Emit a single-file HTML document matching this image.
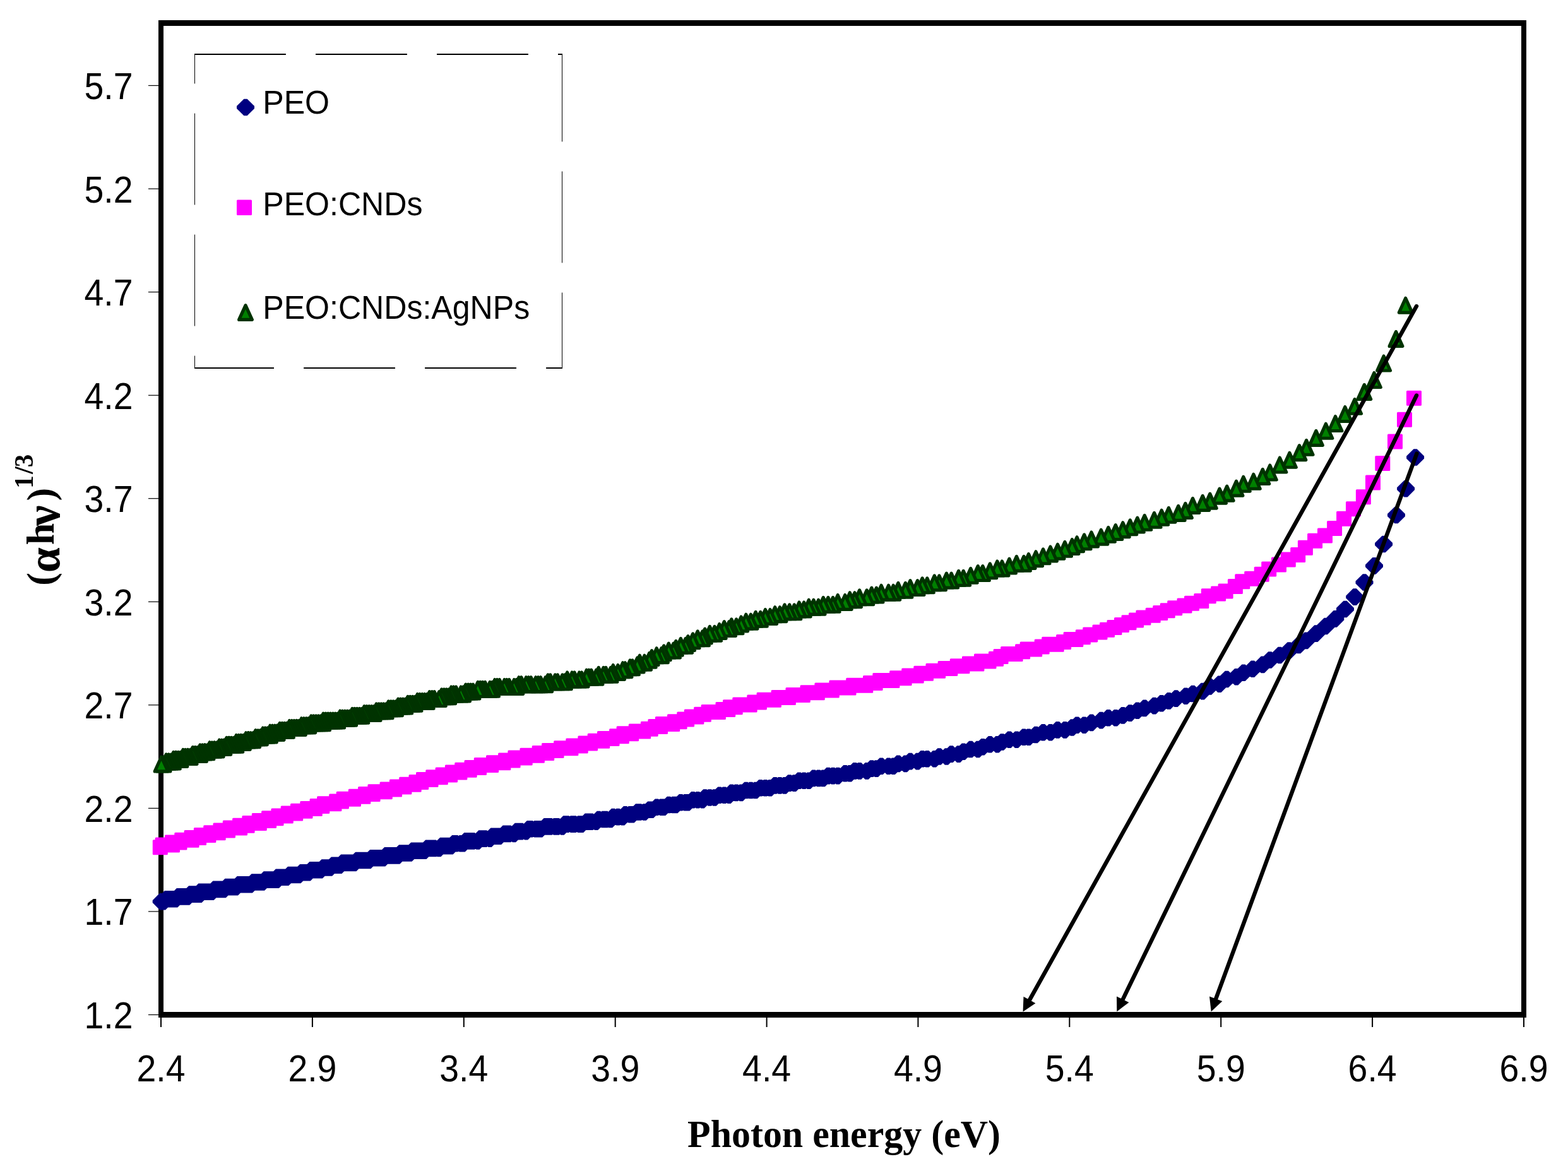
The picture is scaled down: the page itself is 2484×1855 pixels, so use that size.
<!DOCTYPE html><html><head><meta charset="utf-8"><title>Tauc plot</title><style>html,body{margin:0;padding:0;background:#fff;}svg{display:block;}</style></head><body><svg width="2484" height="1855" viewBox="0 0 2484 1855"><rect width="2484" height="1855" fill="#fff"/><g fill="none" stroke="#000"><path d="M308 86H891" stroke-width="2" stroke-dasharray="144.9 47.1"/><path d="M890.5 86V584" stroke-width="1" stroke-dasharray="144.9 47.1" stroke-dashoffset="582.5"/><path d="M891 583H308" stroke-width="2" stroke-dasharray="144.9 47.1" stroke-dashoffset="1079"/><path d="M308.5 584V85" stroke-width="1" stroke-dasharray="144.9 47.1" stroke-dashoffset="1660.5"/></g><rect x="235" y="1606.9" width="16" height="1.2" fill="#000"/><rect x="235" y="1443.3" width="16" height="1.2" fill="#000"/><rect x="235" y="1279.8" width="16" height="1.2" fill="#000"/><rect x="235" y="1116.2" width="16" height="1.2" fill="#000"/><rect x="235" y="952.7" width="16" height="1.2" fill="#000"/><rect x="235" y="789.1" width="16" height="1.2" fill="#000"/><rect x="235" y="625.6" width="16" height="1.2" fill="#000"/><rect x="235" y="462" width="16" height="1.2" fill="#000"/><rect x="235" y="298.5" width="16" height="1.2" fill="#000"/><rect x="235" y="134.9" width="16" height="1.2" fill="#000"/><rect x="254" y="1612" width="2" height="15" fill="#000"/><rect x="493.9" y="1612" width="2" height="15" fill="#000"/><rect x="733.8" y="1612" width="2" height="15" fill="#000"/><rect x="973.7" y="1612" width="2" height="15" fill="#000"/><rect x="1213.6" y="1612" width="2" height="15" fill="#000"/><rect x="1453.4" y="1612" width="2" height="15" fill="#000"/><rect x="1693.3" y="1612" width="2" height="15" fill="#000"/><rect x="1933.2" y="1612" width="2" height="15" fill="#000"/><rect x="2173.1" y="1612" width="2" height="15" fill="#000"/><rect x="2413" y="1612" width="2" height="15" fill="#000"/><path d="M251 32h2167v9H251zM251 1603h2167v9H251zM251 32h8v1580h-8zM2410 32h8v1580h-8z" fill="#000"/><g transform="translate(210.5 1629) scale(0.9466 1)"><text font-family="Liberation Sans, Arial, sans-serif" font-size="58.5" fill="#000" text-anchor="end">1.2</text></g><g transform="translate(210.5 1465.4) scale(0.9466 1)"><text font-family="Liberation Sans, Arial, sans-serif" font-size="58.5" fill="#000" text-anchor="end">1.7</text></g><g transform="translate(210.5 1301.9) scale(0.9466 1)"><text font-family="Liberation Sans, Arial, sans-serif" font-size="58.5" fill="#000" text-anchor="end">2.2</text></g><g transform="translate(210.5 1138.3) scale(0.9466 1)"><text font-family="Liberation Sans, Arial, sans-serif" font-size="58.5" fill="#000" text-anchor="end">2.7</text></g><g transform="translate(210.5 974.8) scale(0.9466 1)"><text font-family="Liberation Sans, Arial, sans-serif" font-size="58.5" fill="#000" text-anchor="end">3.2</text></g><g transform="translate(210.5 811.2) scale(0.9466 1)"><text font-family="Liberation Sans, Arial, sans-serif" font-size="58.5" fill="#000" text-anchor="end">3.7</text></g><g transform="translate(210.5 647.7) scale(0.9466 1)"><text font-family="Liberation Sans, Arial, sans-serif" font-size="58.5" fill="#000" text-anchor="end">4.2</text></g><g transform="translate(210.5 484.1) scale(0.9466 1)"><text font-family="Liberation Sans, Arial, sans-serif" font-size="58.5" fill="#000" text-anchor="end">4.7</text></g><g transform="translate(210.5 320.6) scale(0.9466 1)"><text font-family="Liberation Sans, Arial, sans-serif" font-size="58.5" fill="#000" text-anchor="end">5.2</text></g><g transform="translate(210.5 157) scale(0.9466 1)"><text font-family="Liberation Sans, Arial, sans-serif" font-size="58.5" fill="#000" text-anchor="end">5.7</text></g><g transform="translate(255 1713) scale(0.9466 1)"><text font-family="Liberation Sans, Arial, sans-serif" font-size="58.5" fill="#000" text-anchor="middle">2.4</text></g><g transform="translate(494.9 1713) scale(0.9466 1)"><text font-family="Liberation Sans, Arial, sans-serif" font-size="58.5" fill="#000" text-anchor="middle">2.9</text></g><g transform="translate(734.8 1713) scale(0.9466 1)"><text font-family="Liberation Sans, Arial, sans-serif" font-size="58.5" fill="#000" text-anchor="middle">3.4</text></g><g transform="translate(974.7 1713) scale(0.9466 1)"><text font-family="Liberation Sans, Arial, sans-serif" font-size="58.5" fill="#000" text-anchor="middle">3.9</text></g><g transform="translate(1214.6 1713) scale(0.9466 1)"><text font-family="Liberation Sans, Arial, sans-serif" font-size="58.5" fill="#000" text-anchor="middle">4.4</text></g><g transform="translate(1454.4 1713) scale(0.9466 1)"><text font-family="Liberation Sans, Arial, sans-serif" font-size="58.5" fill="#000" text-anchor="middle">4.9</text></g><g transform="translate(1694.3 1713) scale(0.9466 1)"><text font-family="Liberation Sans, Arial, sans-serif" font-size="58.5" fill="#000" text-anchor="middle">5.4</text></g><g transform="translate(1934.2 1713) scale(0.9466 1)"><text font-family="Liberation Sans, Arial, sans-serif" font-size="58.5" fill="#000" text-anchor="middle">5.9</text></g><g transform="translate(2174.1 1713) scale(0.9466 1)"><text font-family="Liberation Sans, Arial, sans-serif" font-size="58.5" fill="#000" text-anchor="middle">6.4</text></g><g transform="translate(2414 1713) scale(0.9466 1)"><text font-family="Liberation Sans, Arial, sans-serif" font-size="58.5" fill="#000" text-anchor="middle">6.9</text></g><g transform="translate(1337 1817) scale(0.9666 1)"><text x="0" y="0" font-family="Liberation Serif, Times New Roman, serif" font-weight="bold" font-size="62" text-anchor="middle">Photon energy (eV)</text></g><g transform="translate(85 926) rotate(-90)" font-family="Liberation Serif, Times New Roman, serif" font-weight="bold" text-anchor="middle"><text transform="translate(8.5 0) scale(1 1)" font-size="62">(</text><text transform="translate(38.7 8.5) scale(1.16 1.17)" font-size="62">&#945;</text><text transform="translate(80.1 0) scale(1 1)" font-size="62">h</text><text transform="translate(109.2 8.5) scale(1.17 1.26)" font-size="62">&#957;</text><text transform="translate(142.8 0) scale(1 1)" font-size="62">)</text><text transform="translate(162.6 -33) scale(1 1)" font-size="41.4">1</text><text transform="translate(181 -33) scale(1 1)" font-size="41.4">/</text><text transform="translate(196 -33) scale(1 1)" font-size="41.4">3</text></g><path d="M386.4 156.7L391.6 156.7L403 168.1L403 171.9L391.6 183.3L386.4 183.3L375 171.9L375 168.1Z" fill="#000080"/><path d="M376.5 318h21v21.5h-21Z" fill="#FF00FF" stroke="#FF00FF" stroke-width="3" stroke-linejoin="round"/><path d="M389 483.6L399.4 506.4L378.6 506.4Z" fill="#008000" stroke="#003300" stroke-width="5.1" stroke-linejoin="round"/><g transform="translate(416.3 179.9) scale(0.965 1)"><text font-family="Liberation Sans, Arial, sans-serif" font-size="51.9" fill="#000">PEO</text></g><g transform="translate(416.3 341) scale(0.965 1)"><text font-family="Liberation Sans, Arial, sans-serif" font-size="51.9" fill="#000">PEO:CNDs</text></g><g transform="translate(416.3 504.8) scale(0.965 1)"><text font-family="Liberation Sans, Arial, sans-serif" font-size="51.9" fill="#000">PEO:CNDs:AgNPs</text></g><path d="M2239.5 711.2L2244.7 711.2L2256.1 722.6L2256.1 726.4L2244.7 737.8L2239.5 737.8L2228.1 726.4L2228.1 722.6ZM2224.5 760.9L2229.7 760.9L2241.1 772.3L2241.1 776.1L2229.7 787.5L2224.5 787.5L2213.1 776.1L2213.1 772.3ZM2209.4 802.7L2214.6 802.7L2226 814.1L2226 817.9L2214.6 829.3L2209.4 829.3L2198 817.9L2198 814.1ZM2189.5 848.7L2194.7 848.7L2206.1 860.1L2206.1 863.9L2194.7 875.3L2189.5 875.3L2178.1 863.9L2178.1 860.1ZM2174.4 883.1L2179.6 883.1L2191 894.5L2191 898.3L2179.6 909.7L2174.4 909.7L2163 898.3L2163 894.5ZM2158.9 909.2L2164.1 909.2L2175.5 920.6L2175.5 924.4L2164.1 935.8L2158.9 935.8L2147.5 924.4L2147.5 920.6ZM2143.6 932.3L2148.8 932.3L2160.2 943.7L2160.2 947.5L2148.8 958.9L2143.6 958.9L2132.2 947.5L2132.2 943.7ZM2128.4 951.7L2133.6 951.7L2145 963.1L2145 966.9L2133.6 978.3L2128.4 978.3L2117 966.9L2117 963.1ZM2112.7 967.1L2117.9 967.1L2129.3 978.5L2129.3 982.3L2117.9 993.7L2112.7 993.7L2101.3 982.3L2101.3 978.5ZM2097.7 978.7L2102.9 978.7L2114.3 990.1L2114.3 993.9L2102.9 1005.3L2097.7 1005.3L2086.3 993.9L2086.3 990.1ZM2082.3 990.3L2087.5 990.3L2098.9 1001.7L2098.9 1005.5L2087.5 1016.9L2082.3 1016.9L2070.9 1005.5L2070.9 1001.7ZM2066.6 1001.6L2071.8 1001.6L2083.2 1013L2083.2 1016.8L2071.8 1028.2L2066.6 1028.2L2055.2 1016.8L2055.2 1013ZM2055.1 1008.7L2060.3 1008.7L2071.7 1020.1L2071.7 1023.9L2060.3 1035.3L2055.1 1035.3L2043.7 1023.9L2043.7 1020.1ZM2039.6 1017.2L2044.8 1017.2L2056.2 1028.6L2056.2 1032.4L2044.8 1043.8L2039.6 1043.8L2028.2 1032.4L2028.2 1028.6ZM2024.6 1024.7L2029.8 1024.7L2041.2 1036.1L2041.2 1039.9L2029.8 1051.3L2024.6 1051.3L2013.2 1039.9L2013.2 1036.1ZM2009.2 1032.2L2014.4 1032.2L2025.8 1043.6L2025.8 1047.4L2014.4 1058.8L2009.2 1058.8L1997.8 1047.4L1997.8 1043.6ZM1997.8 1039.6L2003 1039.6L2014.4 1051L2014.4 1054.8L2003 1066.2L1997.8 1066.2L1986.4 1054.8L1986.4 1051ZM1981.9 1046.5L1987.1 1046.5L1998.5 1057.9L1998.5 1061.7L1987.1 1073.1L1981.9 1073.1L1970.5 1061.7L1970.5 1057.9ZM1967.4 1052.5L1972.6 1052.5L1984 1063.9L1984 1067.7L1972.6 1079.1L1967.4 1079.1L1956 1067.7L1956 1063.9ZM1956.1 1058.9L1961.3 1058.9L1972.7 1070.3L1972.7 1074.1L1961.3 1085.5L1956.1 1085.5L1944.7 1074.1L1944.7 1070.3ZM1940.8 1062.7L1946 1062.7L1957.4 1074.1L1957.4 1077.9L1946 1089.3L1940.8 1089.3L1929.4 1077.9L1929.4 1074.1ZM1929.3 1070.4L1934.5 1070.4L1945.9 1081.8L1945.9 1085.6L1934.5 1097L1929.3 1097L1917.9 1085.6L1917.9 1081.8ZM1914 1074.2L1919.2 1074.2L1930.6 1085.6L1930.6 1089.4L1919.2 1100.8L1914 1100.8L1902.6 1089.4L1902.6 1085.6ZM1902.6 1081.8L1907.8 1081.8L1919.2 1093.2L1919.2 1097L1907.8 1108.4L1902.6 1108.4L1891.2 1097L1891.2 1093.2ZM1887.2 1085.7L1892.4 1085.7L1903.8 1097.1L1903.8 1100.9L1892.4 1112.3L1887.2 1112.3L1875.8 1100.9L1875.8 1097.1ZM1875.8 1089.5L1881 1089.5L1892.4 1100.9L1892.4 1104.7L1881 1116.1L1875.8 1116.1L1864.4 1104.7L1864.4 1100.9ZM1860.5 1093.3L1865.7 1093.3L1877.1 1104.7L1877.1 1108.5L1865.7 1119.9L1860.5 1119.9L1849.1 1108.5L1849.1 1104.7ZM1849 1097.1L1854.2 1097.1L1865.6 1108.5L1865.6 1112.3L1854.2 1123.7L1849 1123.7L1837.6 1112.3L1837.6 1108.5ZM1837.5 1101L1842.7 1101L1854.1 1112.4L1854.1 1116.2L1842.7 1127.6L1837.5 1127.6L1826.1 1116.2L1826.1 1112.4ZM1826 1104.8L1831.2 1104.8L1842.6 1116.2L1842.6 1120L1831.2 1131.4L1826 1131.4L1814.6 1120L1814.6 1116.2ZM1810.7 1108.6L1815.9 1108.6L1827.3 1120L1827.3 1123.8L1815.9 1135.2L1810.7 1135.2L1799.3 1123.8L1799.3 1120ZM1799.2 1112.5L1804.4 1112.5L1815.8 1123.9L1815.8 1127.7L1804.4 1139.1L1799.2 1139.1L1787.8 1127.7L1787.8 1123.9ZM1787.7 1116.3L1792.9 1116.3L1804.3 1127.7L1804.3 1131.5L1792.9 1142.9L1787.7 1142.9L1776.3 1131.5L1776.3 1127.7ZM1776.3 1120.1L1781.5 1120.1L1792.9 1131.5L1792.9 1135.3L1781.5 1146.7L1776.3 1146.7L1764.9 1135.3L1764.9 1131.5ZM1764.8 1123.9L1770 1123.9L1781.4 1135.3L1781.4 1139.1L1770 1150.5L1764.8 1150.5L1753.4 1139.1L1753.4 1135.3ZM1753.3 1123.9L1758.5 1123.9L1769.9 1135.3L1769.9 1139.1L1758.5 1150.5L1753.3 1150.5L1741.9 1139.1L1741.9 1135.3ZM1741.8 1127.8L1747 1127.8L1758.4 1139.2L1758.4 1143L1747 1154.4L1741.8 1154.4L1730.4 1143L1730.4 1139.2ZM1726.5 1131.6L1731.7 1131.6L1743.1 1143L1743.1 1146.8L1731.7 1158.2L1726.5 1158.2L1715.1 1146.8L1715.1 1143ZM1715 1135.4L1720.2 1135.4L1731.6 1146.8L1731.6 1150.6L1720.2 1162L1715 1162L1703.6 1150.6L1703.6 1146.8ZM1703.6 1135.4L1708.8 1135.4L1720.2 1146.8L1720.2 1150.6L1708.8 1162L1703.6 1162L1692.2 1150.6L1692.2 1146.8ZM1695.9 1139.2L1701.1 1139.2L1712.5 1150.6L1712.5 1154.4L1701.1 1165.8L1695.9 1165.8L1684.5 1154.4L1684.5 1150.6ZM1684.4 1143.1L1689.6 1143.1L1701 1154.5L1701 1158.3L1689.6 1169.7L1684.4 1169.7L1673 1158.3L1673 1154.5ZM1672.9 1143.1L1678.1 1143.1L1689.5 1154.5L1689.5 1158.3L1678.1 1169.7L1672.9 1169.7L1661.5 1158.3L1661.5 1154.5ZM1661.5 1146.9L1666.7 1146.9L1678.1 1158.3L1678.1 1162.1L1666.7 1173.5L1661.5 1173.5L1650.1 1162.1L1650.1 1158.3ZM1650 1146.9L1655.2 1146.9L1666.6 1158.3L1666.6 1162.1L1655.2 1173.5L1650 1173.5L1638.6 1162.1L1638.6 1158.3ZM1638.5 1150.7L1643.7 1150.7L1655.1 1162.1L1655.1 1165.9L1643.7 1177.3L1638.5 1177.3L1627.1 1165.9L1627.1 1162.1ZM1627 1154.5L1632.2 1154.5L1643.6 1165.9L1643.6 1169.7L1632.2 1181.1L1627 1181.1L1615.6 1169.7L1615.6 1165.9ZM1619.4 1154.5L1624.6 1154.5L1636 1165.9L1636 1169.7L1624.6 1181.1L1619.4 1181.1L1608 1169.7L1608 1165.9ZM1607.9 1158.4L1613.1 1158.4L1624.5 1169.8L1624.5 1173.6L1613.1 1185L1607.9 1185L1596.5 1173.6L1596.5 1169.8ZM1596.4 1158.4L1601.6 1158.4L1613 1169.8L1613 1173.6L1601.6 1185L1596.4 1185L1585 1173.6L1585 1169.8ZM1584.9 1162.2L1590.1 1162.2L1601.5 1173.6L1601.5 1177.4L1590.1 1188.8L1584.9 1188.8L1573.5 1177.4L1573.5 1173.6ZM1577.3 1166L1582.5 1166L1593.9 1177.4L1593.9 1181.2L1582.5 1192.6L1577.3 1192.6L1565.9 1181.2L1565.9 1177.4ZM1565.8 1166L1571 1166L1582.4 1177.4L1582.4 1181.2L1571 1192.6L1565.8 1192.6L1554.4 1181.2L1554.4 1177.4ZM1554.3 1169.9L1559.5 1169.9L1570.9 1181.3L1570.9 1185.1L1559.5 1196.5L1554.3 1196.5L1542.9 1185.1L1542.9 1181.3ZM1546.6 1173.7L1551.8 1173.7L1563.2 1185.1L1563.2 1188.9L1551.8 1200.3L1546.6 1200.3L1535.2 1188.9L1535.2 1185.1ZM1535.2 1173.7L1540.4 1173.7L1551.8 1185.1L1551.8 1188.9L1540.4 1200.3L1535.2 1200.3L1523.8 1188.9L1523.8 1185.1ZM1523.7 1177.5L1528.9 1177.5L1540.3 1188.9L1540.3 1192.7L1528.9 1204.1L1523.7 1204.1L1512.3 1192.7L1512.3 1188.9ZM1516 1181.3L1521.2 1181.3L1532.6 1192.7L1532.6 1196.5L1521.2 1207.9L1516 1207.9L1504.6 1196.5L1504.6 1192.7ZM1504.5 1181.3L1509.7 1181.3L1521.1 1192.7L1521.1 1196.5L1509.7 1207.9L1504.5 1207.9L1493.1 1196.5L1493.1 1192.7ZM1496.9 1185.2L1502.1 1185.2L1513.5 1196.6L1513.5 1200.4L1502.1 1211.8L1496.9 1211.8L1485.5 1200.4L1485.5 1196.6ZM1485.4 1185.2L1490.6 1185.2L1502 1196.6L1502 1200.4L1490.6 1211.8L1485.4 1211.8L1474 1200.4L1474 1196.6ZM1477.8 1189L1483 1189L1494.4 1200.4L1494.4 1204.2L1483 1215.6L1477.8 1215.6L1466.4 1204.2L1466.4 1200.4ZM1466.3 1189L1471.5 1189L1482.9 1200.4L1482.9 1204.2L1471.5 1215.6L1466.3 1215.6L1454.9 1204.2L1454.9 1200.4ZM1458.6 1189L1463.8 1189L1475.2 1200.4L1475.2 1204.2L1463.8 1215.6L1458.6 1215.6L1447.2 1204.2L1447.2 1200.4ZM1451 1192.8L1456.2 1192.8L1467.6 1204.2L1467.6 1208L1456.2 1219.4L1451 1219.4L1439.6 1208L1439.6 1204.2ZM1439.5 1192.8L1444.7 1192.8L1456.1 1204.2L1456.1 1208L1444.7 1219.4L1439.5 1219.4L1428.1 1208L1428.1 1204.2ZM1431.8 1196.6L1437 1196.6L1448.4 1208L1448.4 1211.8L1437 1223.2L1431.8 1223.2L1420.4 1211.8L1420.4 1208ZM1420.4 1196.6L1425.6 1196.6L1437 1208L1437 1211.8L1425.6 1223.2L1420.4 1223.2L1409 1211.8L1409 1208ZM1412.7 1200.5L1417.9 1200.5L1429.3 1211.9L1429.3 1215.7L1417.9 1227.1L1412.7 1227.1L1401.3 1215.7L1401.3 1211.9ZM1405 1200.5L1410.2 1200.5L1421.6 1211.9L1421.6 1215.7L1410.2 1227.1L1405 1227.1L1393.6 1215.7L1393.6 1211.9ZM1393.6 1200.5L1398.8 1200.5L1410.2 1211.9L1410.2 1215.7L1398.8 1227.1L1393.6 1227.1L1382.2 1215.7L1382.2 1211.9ZM1385.9 1204.3L1391.1 1204.3L1402.5 1215.7L1402.5 1219.5L1391.1 1230.9L1385.9 1230.9L1374.5 1219.5L1374.5 1215.7ZM1378.3 1204.3L1383.5 1204.3L1394.9 1215.7L1394.9 1219.5L1383.5 1230.9L1378.3 1230.9L1366.9 1219.5L1366.9 1215.7ZM1370.6 1208.1L1375.8 1208.1L1387.2 1219.5L1387.2 1223.3L1375.8 1234.7L1370.6 1234.7L1359.2 1223.3L1359.2 1219.5ZM1359.1 1208.1L1364.3 1208.1L1375.7 1219.5L1375.7 1223.3L1364.3 1234.7L1359.1 1234.7L1347.7 1223.3L1347.7 1219.5ZM1351.5 1208.1L1356.7 1208.1L1368.1 1219.5L1368.1 1223.3L1356.7 1234.7L1351.5 1234.7L1340.1 1223.3L1340.1 1219.5ZM1343.8 1212L1349 1212L1360.4 1223.4L1360.4 1227.2L1349 1238.6L1343.8 1238.6L1332.4 1227.2L1332.4 1223.4ZM1336.2 1212L1341.4 1212L1352.8 1223.4L1352.8 1227.2L1341.4 1238.6L1336.2 1238.6L1324.8 1227.2L1324.8 1223.4ZM1324.7 1215.8L1329.9 1215.8L1341.3 1227.2L1341.3 1231L1329.9 1242.4L1324.7 1242.4L1313.3 1231L1313.3 1227.2ZM1317 1215.8L1322.2 1215.8L1333.6 1227.2L1333.6 1231L1322.2 1242.4L1317 1242.4L1305.6 1231L1305.6 1227.2ZM1309.4 1215.8L1314.6 1215.8L1326 1227.2L1326 1231L1314.6 1242.4L1309.4 1242.4L1298 1231L1298 1227.2ZM1301.7 1219.6L1306.9 1219.6L1318.3 1231L1318.3 1234.8L1306.9 1246.2L1301.7 1246.2L1290.3 1234.8L1290.3 1231ZM1294.1 1219.6L1299.3 1219.6L1310.7 1231L1310.7 1234.8L1299.3 1246.2L1294.1 1246.2L1282.7 1234.8L1282.7 1231ZM1286.4 1219.6L1291.6 1219.6L1303 1231L1303 1234.8L1291.6 1246.2L1286.4 1246.2L1275 1234.8L1275 1231ZM1278.8 1223.4L1284 1223.4L1295.4 1234.8L1295.4 1238.6L1284 1250L1278.8 1250L1267.4 1238.6L1267.4 1234.8ZM1271.1 1223.4L1276.3 1223.4L1287.7 1234.8L1287.7 1238.6L1276.3 1250L1271.1 1250L1259.7 1238.6L1259.7 1234.8ZM1263.4 1223.4L1268.6 1223.4L1280 1234.8L1280 1238.6L1268.6 1250L1263.4 1250L1252 1238.6L1252 1234.8ZM1255.8 1227.3L1261 1227.3L1272.4 1238.7L1272.4 1242.5L1261 1253.9L1255.8 1253.9L1244.4 1242.5L1244.4 1238.7ZM1248.1 1227.3L1253.3 1227.3L1264.7 1238.7L1264.7 1242.5L1253.3 1253.9L1248.1 1253.9L1236.7 1242.5L1236.7 1238.7ZM1240.5 1231.1L1245.7 1231.1L1257.1 1242.5L1257.1 1246.3L1245.7 1257.7L1240.5 1257.7L1229.1 1246.3L1229.1 1242.5ZM1232.8 1231.1L1238 1231.1L1249.4 1242.5L1249.4 1246.3L1238 1257.7L1232.8 1257.7L1221.4 1246.3L1221.4 1242.5ZM1225.2 1231.1L1230.4 1231.1L1241.8 1242.5L1241.8 1246.3L1230.4 1257.7L1225.2 1257.7L1213.8 1246.3L1213.8 1242.5ZM1217.5 1234.9L1222.7 1234.9L1234.1 1246.3L1234.1 1250.1L1222.7 1261.5L1217.5 1261.5L1206.1 1250.1L1206.1 1246.3ZM1209.9 1234.9L1215.1 1234.9L1226.5 1246.3L1226.5 1250.1L1215.1 1261.5L1209.9 1261.5L1198.5 1250.1L1198.5 1246.3ZM1202.2 1234.9L1207.4 1234.9L1218.8 1246.3L1218.8 1250.1L1207.4 1261.5L1202.2 1261.5L1190.8 1250.1L1190.8 1246.3ZM1194.6 1238.7L1199.8 1238.7L1211.2 1250.1L1211.2 1253.9L1199.8 1265.3L1194.6 1265.3L1183.2 1253.9L1183.2 1250.1ZM1186.9 1238.7L1192.1 1238.7L1203.5 1250.1L1203.5 1253.9L1192.1 1265.3L1186.9 1265.3L1175.5 1253.9L1175.5 1250.1ZM1179.3 1238.7L1184.5 1238.7L1195.9 1250.1L1195.9 1253.9L1184.5 1265.3L1179.3 1265.3L1167.9 1253.9L1167.9 1250.1ZM1171.6 1242.6L1176.8 1242.6L1188.2 1254L1188.2 1257.8L1176.8 1269.2L1171.6 1269.2L1160.2 1257.8L1160.2 1254ZM1163.9 1242.6L1169.1 1242.6L1180.5 1254L1180.5 1257.8L1169.1 1269.2L1163.9 1269.2L1152.5 1257.8L1152.5 1254ZM1156.3 1242.6L1161.5 1242.6L1172.9 1254L1172.9 1257.8L1161.5 1269.2L1156.3 1269.2L1144.9 1257.8L1144.9 1254ZM1152.5 1246.4L1157.7 1246.4L1169.1 1257.8L1169.1 1261.6L1157.7 1273L1152.5 1273L1141.1 1261.6L1141.1 1257.8ZM1144.8 1246.4L1150 1246.4L1161.4 1257.8L1161.4 1261.6L1150 1273L1144.8 1273L1133.4 1261.6L1133.4 1257.8ZM1137.2 1246.4L1142.4 1246.4L1153.8 1257.8L1153.8 1261.6L1142.4 1273L1137.2 1273L1125.8 1261.6L1125.8 1257.8ZM1129.5 1250.2L1134.7 1250.2L1146.1 1261.6L1146.1 1265.4L1134.7 1276.8L1129.5 1276.8L1118.1 1265.4L1118.1 1261.6ZM1121.8 1250.2L1127 1250.2L1138.4 1261.6L1138.4 1265.4L1127 1276.8L1121.8 1276.8L1110.4 1265.4L1110.4 1261.6ZM1114.2 1250.2L1119.4 1250.2L1130.8 1261.6L1130.8 1265.4L1119.4 1276.8L1114.2 1276.8L1102.8 1265.4L1102.8 1261.6ZM1110.4 1254L1115.6 1254L1127 1265.4L1127 1269.2L1115.6 1280.6L1110.4 1280.6L1099 1269.2L1099 1265.4ZM1102.7 1254L1107.9 1254L1119.3 1265.4L1119.3 1269.2L1107.9 1280.6L1102.7 1280.6L1091.3 1269.2L1091.3 1265.4ZM1095.1 1254L1100.3 1254L1111.7 1265.4L1111.7 1269.2L1100.3 1280.6L1095.1 1280.6L1083.7 1269.2L1083.7 1265.4ZM1087.4 1257.9L1092.6 1257.9L1104 1269.3L1104 1273.1L1092.6 1284.5L1087.4 1284.5L1076 1273.1L1076 1269.3ZM1083.6 1257.9L1088.8 1257.9L1100.2 1269.3L1100.2 1273.1L1088.8 1284.5L1083.6 1284.5L1072.2 1273.1L1072.2 1269.3ZM1075.9 1257.9L1081.1 1257.9L1092.5 1269.3L1092.5 1273.1L1081.1 1284.5L1075.9 1284.5L1064.5 1273.1L1064.5 1269.3ZM1068.3 1261.7L1073.5 1261.7L1084.9 1273.1L1084.9 1276.9L1073.5 1288.3L1068.3 1288.3L1056.9 1276.9L1056.9 1273.1ZM1064.4 1261.7L1069.6 1261.7L1081 1273.1L1081 1276.9L1069.6 1288.3L1064.4 1288.3L1053 1276.9L1053 1273.1ZM1056.8 1261.7L1062 1261.7L1073.4 1273.1L1073.4 1276.9L1062 1288.3L1056.8 1288.3L1045.4 1276.9L1045.4 1273.1ZM1049.1 1265.5L1054.3 1265.5L1065.7 1276.9L1065.7 1280.7L1054.3 1292.1L1049.1 1292.1L1037.7 1280.7L1037.7 1276.9ZM1045.3 1265.5L1050.5 1265.5L1061.9 1276.9L1061.9 1280.7L1050.5 1292.1L1045.3 1292.1L1033.9 1280.7L1033.9 1276.9ZM1037.7 1265.5L1042.9 1265.5L1054.3 1276.9L1054.3 1280.7L1042.9 1292.1L1037.7 1292.1L1026.3 1280.7L1026.3 1276.9ZM1030 1269.4L1035.2 1269.4L1046.6 1280.8L1046.6 1284.6L1035.2 1296L1030 1296L1018.6 1284.6L1018.6 1280.8ZM1026.2 1269.4L1031.4 1269.4L1042.8 1280.8L1042.8 1284.6L1031.4 1296L1026.2 1296L1014.8 1284.6L1014.8 1280.8ZM1018.5 1273.2L1023.7 1273.2L1035.1 1284.6L1035.1 1288.4L1023.7 1299.8L1018.5 1299.8L1007.1 1288.4L1007.1 1284.6ZM1010.9 1273.2L1016.1 1273.2L1027.5 1284.6L1027.5 1288.4L1016.1 1299.8L1010.9 1299.8L999.5 1288.4L999.5 1284.6ZM1007 1273.2L1012.2 1273.2L1023.6 1284.6L1023.6 1288.4L1012.2 1299.8L1007 1299.8L995.6 1288.4L995.6 1284.6ZM999.4 1277L1004.6 1277L1016 1288.4L1016 1292.2L1004.6 1303.6L999.4 1303.6L988 1292.2L988 1288.4ZM995.6 1277L1000.8 1277L1012.2 1288.4L1012.2 1292.2L1000.8 1303.6L995.6 1303.6L984.2 1292.2L984.2 1288.4ZM987.9 1277L993.1 1277L1004.5 1288.4L1004.5 1292.2L993.1 1303.6L987.9 1303.6L976.5 1292.2L976.5 1288.4ZM984.1 1280.8L989.3 1280.8L1000.7 1292.2L1000.7 1296L989.3 1307.4L984.1 1307.4L972.7 1296L972.7 1292.2ZM976.4 1280.8L981.6 1280.8L993 1292.2L993 1296L981.6 1307.4L976.4 1307.4L965 1296L965 1292.2ZM968.8 1280.8L974 1280.8L985.4 1292.2L985.4 1296L974 1307.4L968.8 1307.4L957.4 1296L957.4 1292.2ZM964.9 1284.7L970.1 1284.7L981.5 1296.1L981.5 1299.9L970.1 1311.3L964.9 1311.3L953.5 1299.9L953.5 1296.1ZM957.3 1284.7L962.5 1284.7L973.9 1296.1L973.9 1299.9L962.5 1311.3L957.3 1311.3L945.9 1299.9L945.9 1296.1ZM953.5 1284.7L958.7 1284.7L970.1 1296.1L970.1 1299.9L958.7 1311.3L953.5 1311.3L942.1 1299.9L942.1 1296.1ZM945.8 1284.7L951 1284.7L962.4 1296.1L962.4 1299.9L951 1311.3L945.8 1311.3L934.4 1299.9L934.4 1296.1ZM942 1288.5L947.2 1288.5L958.6 1299.9L958.6 1303.7L947.2 1315.1L942 1315.1L930.6 1303.7L930.6 1299.9ZM934.3 1288.5L939.5 1288.5L950.9 1299.9L950.9 1303.7L939.5 1315.1L934.3 1315.1L922.9 1303.7L922.9 1299.9ZM930.5 1288.5L935.7 1288.5L947.1 1299.9L947.1 1303.7L935.7 1315.1L930.5 1315.1L919.1 1303.7L919.1 1299.9ZM926.7 1288.5L931.9 1288.5L943.3 1299.9L943.3 1303.7L931.9 1315.1L926.7 1315.1L915.3 1303.7L915.3 1299.9ZM919 1292.3L924.2 1292.3L935.6 1303.7L935.6 1307.5L924.2 1318.9L919 1318.9L907.6 1307.5L907.6 1303.7ZM915.2 1292.3L920.4 1292.3L931.8 1303.7L931.8 1307.5L920.4 1318.9L915.2 1318.9L903.8 1307.5L903.8 1303.7ZM907.5 1292.3L912.7 1292.3L924.1 1303.7L924.1 1307.5L912.7 1318.9L907.5 1318.9L896.1 1307.5L896.1 1303.7ZM903.7 1292.3L908.9 1292.3L920.3 1303.7L920.3 1307.5L908.9 1318.9L903.7 1318.9L892.3 1307.5L892.3 1303.7ZM896.1 1292.3L901.3 1292.3L912.7 1303.7L912.7 1307.5L901.3 1318.9L896.1 1318.9L884.7 1307.5L884.7 1303.7ZM892.2 1292.3L897.4 1292.3L908.8 1303.7L908.8 1307.5L897.4 1318.9L892.2 1318.9L880.8 1307.5L880.8 1303.7ZM888.4 1296.1L893.6 1296.1L905 1307.5L905 1311.3L893.6 1322.7L888.4 1322.7L877 1311.3L877 1307.5ZM880.7 1296.1L885.9 1296.1L897.3 1307.5L897.3 1311.3L885.9 1322.7L880.7 1322.7L869.3 1311.3L869.3 1307.5ZM876.9 1296.1L882.1 1296.1L893.5 1307.5L893.5 1311.3L882.1 1322.7L876.9 1322.7L865.5 1311.3L865.5 1307.5ZM869.3 1296.1L874.5 1296.1L885.9 1307.5L885.9 1311.3L874.5 1322.7L869.3 1322.7L857.9 1311.3L857.9 1307.5ZM865.4 1296.1L870.6 1296.1L882 1307.5L882 1311.3L870.6 1322.7L865.4 1322.7L854 1311.3L854 1307.5ZM861.6 1296.1L866.8 1296.1L878.2 1307.5L878.2 1311.3L866.8 1322.7L861.6 1322.7L850.2 1311.3L850.2 1307.5ZM854 1300L859.2 1300L870.6 1311.4L870.6 1315.2L859.2 1326.6L854 1326.6L842.6 1315.2L842.6 1311.4ZM850.1 1300L855.3 1300L866.7 1311.4L866.7 1315.2L855.3 1326.6L850.1 1326.6L838.7 1315.2L838.7 1311.4ZM846.3 1300L851.5 1300L862.9 1311.4L862.9 1315.2L851.5 1326.6L846.3 1326.6L834.9 1315.2L834.9 1311.4ZM838.7 1300L843.9 1300L855.3 1311.4L855.3 1315.2L843.9 1326.6L838.7 1326.6L827.3 1315.2L827.3 1311.4ZM834.8 1300L840 1300L851.4 1311.4L851.4 1315.2L840 1326.6L834.8 1326.6L823.4 1315.2L823.4 1311.4ZM831 1303.8L836.2 1303.8L847.6 1315.2L847.6 1319L836.2 1330.4L831 1330.4L819.6 1319L819.6 1315.2ZM823.3 1303.8L828.5 1303.8L839.9 1315.2L839.9 1319L828.5 1330.4L823.3 1330.4L811.9 1319L811.9 1315.2ZM819.5 1303.8L824.7 1303.8L836.1 1315.2L836.1 1319L824.7 1330.4L819.5 1330.4L808.1 1319L808.1 1315.2ZM815.7 1303.8L820.9 1303.8L832.3 1315.2L832.3 1319L820.9 1330.4L815.7 1330.4L804.3 1319L804.3 1315.2ZM811.9 1307.6L817.1 1307.6L828.5 1319L828.5 1322.8L817.1 1334.2L811.9 1334.2L800.5 1322.8L800.5 1319ZM804.2 1307.6L809.4 1307.6L820.8 1319L820.8 1322.8L809.4 1334.2L804.2 1334.2L792.8 1322.8L792.8 1319ZM800.4 1307.6L805.6 1307.6L817 1319L817 1322.8L805.6 1334.2L800.4 1334.2L789 1322.8L789 1319ZM796.6 1307.6L801.8 1307.6L813.2 1319L813.2 1322.8L801.8 1334.2L796.6 1334.2L785.2 1322.8L785.2 1319ZM788.9 1311.5L794.1 1311.5L805.5 1322.9L805.5 1326.7L794.1 1338.1L788.9 1338.1L777.5 1326.7L777.5 1322.9ZM785.1 1311.5L790.3 1311.5L801.7 1322.9L801.7 1326.7L790.3 1338.1L785.1 1338.1L773.7 1326.7L773.7 1322.9ZM781.2 1311.5L786.4 1311.5L797.8 1322.9L797.8 1326.7L786.4 1338.1L781.2 1338.1L769.8 1326.7L769.8 1322.9ZM777.4 1311.5L782.6 1311.5L794 1322.9L794 1326.7L782.6 1338.1L777.4 1338.1L766 1326.7L766 1322.9ZM773.6 1315.3L778.8 1315.3L790.2 1326.7L790.2 1330.5L778.8 1341.9L773.6 1341.9L762.2 1330.5L762.2 1326.7ZM765.9 1315.3L771.1 1315.3L782.5 1326.7L782.5 1330.5L771.1 1341.9L765.9 1341.9L754.5 1330.5L754.5 1326.7ZM762.1 1315.3L767.3 1315.3L778.7 1326.7L778.7 1330.5L767.3 1341.9L762.1 1341.9L750.7 1330.5L750.7 1326.7ZM758.3 1315.3L763.5 1315.3L774.9 1326.7L774.9 1330.5L763.5 1341.9L758.3 1341.9L746.9 1330.5L746.9 1326.7ZM754.5 1319.1L759.7 1319.1L771.1 1330.5L771.1 1334.3L759.7 1345.7L754.5 1345.7L743.1 1334.3L743.1 1330.5ZM746.8 1319.1L752 1319.1L763.4 1330.5L763.4 1334.3L752 1345.7L746.8 1345.7L735.4 1334.3L735.4 1330.5ZM743 1319.1L748.2 1319.1L759.6 1330.5L759.6 1334.3L748.2 1345.7L743 1345.7L731.6 1334.3L731.6 1330.5ZM739.1 1319.1L744.3 1319.1L755.7 1330.5L755.7 1334.3L744.3 1345.7L739.1 1345.7L727.7 1334.3L727.7 1330.5ZM735.3 1319.1L740.5 1319.1L751.9 1330.5L751.9 1334.3L740.5 1345.7L735.3 1345.7L723.9 1334.3L723.9 1330.5ZM731.5 1322.9L736.7 1322.9L748.1 1334.3L748.1 1338.1L736.7 1349.5L731.5 1349.5L720.1 1338.1L720.1 1334.3ZM727.7 1322.9L732.9 1322.9L744.3 1334.3L744.3 1338.1L732.9 1349.5L727.7 1349.5L716.3 1338.1L716.3 1334.3ZM720 1322.9L725.2 1322.9L736.6 1334.3L736.6 1338.1L725.2 1349.5L720 1349.5L708.6 1338.1L708.6 1334.3ZM716.2 1322.9L721.4 1322.9L732.8 1334.3L732.8 1338.1L721.4 1349.5L716.2 1349.5L704.8 1338.1L704.8 1334.3ZM712.4 1326.8L717.6 1326.8L729 1338.2L729 1342L717.6 1353.4L712.4 1353.4L701 1342L701 1338.2ZM708.5 1326.8L713.7 1326.8L725.1 1338.2L725.1 1342L713.7 1353.4L708.5 1353.4L697.1 1342L697.1 1338.2ZM704.7 1326.8L709.9 1326.8L721.3 1338.2L721.3 1342L709.9 1353.4L704.7 1353.4L693.3 1342L693.3 1338.2ZM700.9 1326.8L706.1 1326.8L717.5 1338.2L717.5 1342L706.1 1353.4L700.9 1353.4L689.5 1342L689.5 1338.2ZM697.1 1326.8L702.3 1326.8L713.7 1338.2L713.7 1342L702.3 1353.4L697.1 1353.4L685.7 1342L685.7 1338.2ZM693.2 1330.6L698.4 1330.6L709.8 1342L709.8 1345.8L698.4 1357.2L693.2 1357.2L681.8 1345.8L681.8 1342ZM685.6 1330.6L690.8 1330.6L702.2 1342L702.2 1345.8L690.8 1357.2L685.6 1357.2L674.2 1345.8L674.2 1342ZM681.7 1330.6L686.9 1330.6L698.3 1342L698.3 1345.8L686.9 1357.2L681.7 1357.2L670.3 1345.8L670.3 1342ZM677.9 1330.6L683.1 1330.6L694.5 1342L694.5 1345.8L683.1 1357.2L677.9 1357.2L666.5 1345.8L666.5 1342ZM674.1 1330.6L679.3 1330.6L690.7 1342L690.7 1345.8L679.3 1357.2L674.1 1357.2L662.7 1345.8L662.7 1342ZM670.3 1334.4L675.5 1334.4L686.9 1345.8L686.9 1349.6L675.5 1361L670.3 1361L658.9 1349.6L658.9 1345.8ZM666.4 1334.4L671.6 1334.4L683 1345.8L683 1349.6L671.6 1361L666.4 1361L655 1349.6L655 1345.8ZM662.6 1334.4L667.8 1334.4L679.2 1345.8L679.2 1349.6L667.8 1361L662.6 1361L651.2 1349.6L651.2 1345.8ZM658.8 1334.4L664 1334.4L675.4 1345.8L675.4 1349.6L664 1361L658.8 1361L647.4 1349.6L647.4 1345.8ZM655 1334.4L660.2 1334.4L671.6 1345.8L671.6 1349.6L660.2 1361L655 1361L643.6 1349.6L643.6 1345.8ZM651.1 1334.4L656.3 1334.4L667.7 1345.8L667.7 1349.6L656.3 1361L651.1 1361L639.7 1349.6L639.7 1345.8ZM647.3 1338.2L652.5 1338.2L663.9 1349.6L663.9 1353.4L652.5 1364.8L647.3 1364.8L635.9 1353.4L635.9 1349.6ZM643.5 1338.2L648.7 1338.2L660.1 1349.6L660.1 1353.4L648.7 1364.8L643.5 1364.8L632.1 1353.4L632.1 1349.6ZM639.6 1338.2L644.8 1338.2L656.2 1349.6L656.2 1353.4L644.8 1364.8L639.6 1364.8L628.2 1353.4L628.2 1349.6ZM635.8 1338.2L641 1338.2L652.4 1349.6L652.4 1353.4L641 1364.8L635.8 1364.8L624.4 1353.4L624.4 1349.6ZM632 1338.2L637.2 1338.2L648.6 1349.6L648.6 1353.4L637.2 1364.8L632 1364.8L620.6 1353.4L620.6 1349.6ZM628.2 1342.1L633.4 1342.1L644.8 1353.5L644.8 1357.3L633.4 1368.7L628.2 1368.7L616.8 1357.3L616.8 1353.5ZM624.3 1342.1L629.5 1342.1L640.9 1353.5L640.9 1357.3L629.5 1368.7L624.3 1368.7L612.9 1357.3L612.9 1353.5ZM620.5 1342.1L625.7 1342.1L637.1 1353.5L637.1 1357.3L625.7 1368.7L620.5 1368.7L609.1 1357.3L609.1 1353.5ZM616.7 1342.1L621.9 1342.1L633.3 1353.5L633.3 1357.3L621.9 1368.7L616.7 1368.7L605.3 1357.3L605.3 1353.5ZM612.9 1342.1L618.1 1342.1L629.5 1353.5L629.5 1357.3L618.1 1368.7L612.9 1368.7L601.5 1357.3L601.5 1353.5ZM609 1342.1L614.2 1342.1L625.6 1353.5L625.6 1357.3L614.2 1368.7L609 1368.7L597.6 1357.3L597.6 1353.5ZM605.2 1345.9L610.4 1345.9L621.8 1357.3L621.8 1361.1L610.4 1372.5L605.2 1372.5L593.8 1361.1L593.8 1357.3ZM601.4 1345.9L606.6 1345.9L618 1357.3L618 1361.1L606.6 1372.5L601.4 1372.5L590 1361.1L590 1357.3ZM597.6 1345.9L602.8 1345.9L614.2 1357.3L614.2 1361.1L602.8 1372.5L597.6 1372.5L586.2 1361.1L586.2 1357.3ZM593.7 1345.9L598.9 1345.9L610.3 1357.3L610.3 1361.1L598.9 1372.5L593.7 1372.5L582.3 1361.1L582.3 1357.3ZM589.9 1345.9L595.1 1345.9L606.5 1357.3L606.5 1361.1L595.1 1372.5L589.9 1372.5L578.5 1361.1L578.5 1357.3ZM586.1 1345.9L591.3 1345.9L602.7 1357.3L602.7 1361.1L591.3 1372.5L586.1 1372.5L574.7 1361.1L574.7 1357.3ZM582.2 1349.7L587.4 1349.7L598.8 1361.1L598.8 1364.9L587.4 1376.3L582.2 1376.3L570.8 1364.9L570.8 1361.1ZM578.4 1349.7L583.6 1349.7L595 1361.1L595 1364.9L583.6 1376.3L578.4 1376.3L567 1364.9L567 1361.1ZM574.6 1349.7L579.8 1349.7L591.2 1361.1L591.2 1364.9L579.8 1376.3L574.6 1376.3L563.2 1364.9L563.2 1361.1ZM570.8 1349.7L576 1349.7L587.4 1361.1L587.4 1364.9L576 1376.3L570.8 1376.3L559.4 1364.9L559.4 1361.1ZM566.9 1349.7L572.1 1349.7L583.5 1361.1L583.5 1364.9L572.1 1376.3L566.9 1376.3L555.5 1364.9L555.5 1361.1ZM563.1 1349.7L568.3 1349.7L579.7 1361.1L579.7 1364.9L568.3 1376.3L563.1 1376.3L551.7 1364.9L551.7 1361.1ZM559.3 1353.6L564.5 1353.6L575.9 1365L575.9 1368.8L564.5 1380.2L559.3 1380.2L547.9 1368.8L547.9 1365ZM555.5 1353.6L560.7 1353.6L572.1 1365L572.1 1368.8L560.7 1380.2L555.5 1380.2L544.1 1368.8L544.1 1365ZM551.6 1353.6L556.8 1353.6L568.2 1365L568.2 1368.8L556.8 1380.2L551.6 1380.2L540.2 1368.8L540.2 1365ZM547.8 1353.6L553 1353.6L564.4 1365L564.4 1368.8L553 1380.2L547.8 1380.2L536.4 1368.8L536.4 1365ZM544 1353.6L549.2 1353.6L560.6 1365L560.6 1368.8L549.2 1380.2L544 1380.2L532.6 1368.8L532.6 1365ZM540.1 1353.6L545.3 1353.6L556.7 1365L556.7 1368.8L545.3 1380.2L540.1 1380.2L528.7 1368.8L528.7 1365ZM536.3 1357.4L541.5 1357.4L552.9 1368.8L552.9 1372.6L541.5 1384L536.3 1384L524.9 1372.6L524.9 1368.8ZM536.3 1357.4L541.5 1357.4L552.9 1368.8L552.9 1372.6L541.5 1384L536.3 1384L524.9 1372.6L524.9 1368.8ZM532.5 1357.4L537.7 1357.4L549.1 1368.8L549.1 1372.6L537.7 1384L532.5 1384L521.1 1372.6L521.1 1368.8ZM528.7 1357.4L533.9 1357.4L545.3 1368.8L545.3 1372.6L533.9 1384L528.7 1384L517.3 1372.6L517.3 1368.8ZM524.8 1357.4L530 1357.4L541.4 1368.8L541.4 1372.6L530 1384L524.8 1384L513.4 1372.6L513.4 1368.8ZM521 1361.2L526.2 1361.2L537.6 1372.6L537.6 1376.4L526.2 1387.8L521 1387.8L509.6 1376.4L509.6 1372.6ZM517.2 1361.2L522.4 1361.2L533.8 1372.6L533.8 1376.4L522.4 1387.8L517.2 1387.8L505.8 1376.4L505.8 1372.6ZM513.4 1361.2L518.6 1361.2L530 1372.6L530 1376.4L518.6 1387.8L513.4 1387.8L502 1376.4L502 1372.6ZM509.5 1361.2L514.7 1361.2L526.1 1372.6L526.1 1376.4L514.7 1387.8L509.5 1387.8L498.1 1376.4L498.1 1372.6ZM509.5 1361.2L514.7 1361.2L526.1 1372.6L526.1 1376.4L514.7 1387.8L509.5 1387.8L498.1 1376.4L498.1 1372.6ZM505.7 1365L510.9 1365L522.3 1376.4L522.3 1380.2L510.9 1391.6L505.7 1391.6L494.3 1380.2L494.3 1376.4ZM501.9 1365L507.1 1365L518.5 1376.4L518.5 1380.2L507.1 1391.6L501.9 1391.6L490.5 1380.2L490.5 1376.4ZM498 1365L503.2 1365L514.6 1376.4L514.6 1380.2L503.2 1391.6L498 1391.6L486.6 1380.2L486.6 1376.4ZM494.2 1365L499.4 1365L510.8 1376.4L510.8 1380.2L499.4 1391.6L494.2 1391.6L482.8 1380.2L482.8 1376.4ZM490.4 1365L495.6 1365L507 1376.4L507 1380.2L495.6 1391.6L490.4 1391.6L479 1380.2L479 1376.4ZM486.6 1368.9L491.8 1368.9L503.2 1380.3L503.2 1384.1L491.8 1395.5L486.6 1395.5L475.2 1384.1L475.2 1380.3ZM486.6 1368.9L491.8 1368.9L503.2 1380.3L503.2 1384.1L491.8 1395.5L486.6 1395.5L475.2 1384.1L475.2 1380.3ZM482.7 1368.9L487.9 1368.9L499.3 1380.3L499.3 1384.1L487.9 1395.5L482.7 1395.5L471.3 1384.1L471.3 1380.3ZM478.9 1368.9L484.1 1368.9L495.5 1380.3L495.5 1384.1L484.1 1395.5L478.9 1395.5L467.5 1384.1L467.5 1380.3ZM475.1 1368.9L480.3 1368.9L491.7 1380.3L491.7 1384.1L480.3 1395.5L475.1 1395.5L463.7 1384.1L463.7 1380.3ZM471.3 1372.7L476.5 1372.7L487.9 1384.1L487.9 1387.9L476.5 1399.3L471.3 1399.3L459.9 1387.9L459.9 1384.1ZM467.4 1372.7L472.6 1372.7L484 1384.1L484 1387.9L472.6 1399.3L467.4 1399.3L456 1387.9L456 1384.1ZM467.4 1372.7L472.6 1372.7L484 1384.1L484 1387.9L472.6 1399.3L467.4 1399.3L456 1387.9L456 1384.1ZM463.6 1372.7L468.8 1372.7L480.2 1384.1L480.2 1387.9L468.8 1399.3L463.6 1399.3L452.2 1387.9L452.2 1384.1ZM459.8 1372.7L465 1372.7L476.4 1384.1L476.4 1387.9L465 1399.3L459.8 1399.3L448.4 1387.9L448.4 1384.1ZM456 1372.7L461.2 1372.7L472.6 1384.1L472.6 1387.9L461.2 1399.3L456 1399.3L444.6 1387.9L444.6 1384.1ZM452.1 1376.5L457.3 1376.5L468.7 1387.9L468.7 1391.7L457.3 1403.1L452.1 1403.1L440.7 1391.7L440.7 1387.9ZM452.1 1376.5L457.3 1376.5L468.7 1387.9L468.7 1391.7L457.3 1403.1L452.1 1403.1L440.7 1391.7L440.7 1387.9ZM448.3 1376.5L453.5 1376.5L464.9 1387.9L464.9 1391.7L453.5 1403.1L448.3 1403.1L436.9 1391.7L436.9 1387.9ZM444.5 1376.5L449.7 1376.5L461.1 1387.9L461.1 1391.7L449.7 1403.1L444.5 1403.1L433.1 1391.7L433.1 1387.9ZM440.6 1376.5L445.8 1376.5L457.2 1387.9L457.2 1391.7L445.8 1403.1L440.6 1403.1L429.2 1391.7L429.2 1387.9ZM436.8 1376.5L442 1376.5L453.4 1387.9L453.4 1391.7L442 1403.1L436.8 1403.1L425.4 1391.7L425.4 1387.9ZM436.8 1380.3L442 1380.3L453.4 1391.7L453.4 1395.5L442 1406.9L436.8 1406.9L425.4 1395.5L425.4 1391.7ZM433 1380.3L438.2 1380.3L449.6 1391.7L449.6 1395.5L438.2 1406.9L433 1406.9L421.6 1395.5L421.6 1391.7ZM429.2 1380.3L434.4 1380.3L445.8 1391.7L445.8 1395.5L434.4 1406.9L429.2 1406.9L417.8 1395.5L417.8 1391.7ZM425.3 1380.3L430.5 1380.3L441.9 1391.7L441.9 1395.5L430.5 1406.9L425.3 1406.9L413.9 1395.5L413.9 1391.7ZM425.3 1380.3L430.5 1380.3L441.9 1391.7L441.9 1395.5L430.5 1406.9L425.3 1406.9L413.9 1395.5L413.9 1391.7ZM421.5 1380.3L426.7 1380.3L438.1 1391.7L438.1 1395.5L426.7 1406.9L421.5 1406.9L410.1 1395.5L410.1 1391.7ZM417.7 1380.3L422.9 1380.3L434.3 1391.7L434.3 1395.5L422.9 1406.9L417.7 1406.9L406.3 1395.5L406.3 1391.7ZM413.9 1384.2L419.1 1384.2L430.5 1395.6L430.5 1399.4L419.1 1410.8L413.9 1410.8L402.5 1399.4L402.5 1395.6ZM410 1384.2L415.2 1384.2L426.6 1395.6L426.6 1399.4L415.2 1410.8L410 1410.8L398.6 1399.4L398.6 1395.6ZM410 1384.2L415.2 1384.2L426.6 1395.6L426.6 1399.4L415.2 1410.8L410 1410.8L398.6 1399.4L398.6 1395.6ZM406.2 1384.2L411.4 1384.2L422.8 1395.6L422.8 1399.4L411.4 1410.8L406.2 1410.8L394.8 1399.4L394.8 1395.6ZM402.4 1384.2L407.6 1384.2L419 1395.6L419 1399.4L407.6 1410.8L402.4 1410.8L391 1399.4L391 1395.6ZM402.4 1384.2L407.6 1384.2L419 1395.6L419 1399.4L407.6 1410.8L402.4 1410.8L391 1399.4L391 1395.6ZM398.5 1384.2L403.7 1384.2L415.1 1395.6L415.1 1399.4L403.7 1410.8L398.5 1410.8L387.1 1399.4L387.1 1395.6ZM394.7 1388L399.9 1388L411.3 1399.4L411.3 1403.2L399.9 1414.6L394.7 1414.6L383.3 1403.2L383.3 1399.4ZM390.9 1388L396.1 1388L407.5 1399.4L407.5 1403.2L396.1 1414.6L390.9 1414.6L379.5 1403.2L379.5 1399.4ZM390.9 1388L396.1 1388L407.5 1399.4L407.5 1403.2L396.1 1414.6L390.9 1414.6L379.5 1403.2L379.5 1399.4ZM387.1 1388L392.3 1388L403.7 1399.4L403.7 1403.2L392.3 1414.6L387.1 1414.6L375.7 1403.2L375.7 1399.4ZM383.2 1388L388.4 1388L399.8 1399.4L399.8 1403.2L388.4 1414.6L383.2 1414.6L371.8 1403.2L371.8 1399.4ZM379.4 1388L384.6 1388L396 1399.4L396 1403.2L384.6 1414.6L379.4 1414.6L368 1403.2L368 1399.4ZM379.4 1388L384.6 1388L396 1399.4L396 1403.2L384.6 1414.6L379.4 1414.6L368 1403.2L368 1399.4ZM375.6 1388L380.8 1388L392.2 1399.4L392.2 1403.2L380.8 1414.6L375.6 1414.6L364.2 1403.2L364.2 1399.4ZM371.8 1391.8L377 1391.8L388.4 1403.2L388.4 1407L377 1418.4L371.8 1418.4L360.4 1407L360.4 1403.2ZM371.8 1391.8L377 1391.8L388.4 1403.2L388.4 1407L377 1418.4L371.8 1418.4L360.4 1407L360.4 1403.2ZM367.9 1391.8L373.1 1391.8L384.5 1403.2L384.5 1407L373.1 1418.4L367.9 1418.4L356.5 1407L356.5 1403.2ZM364.1 1391.8L369.3 1391.8L380.7 1403.2L380.7 1407L369.3 1418.4L364.1 1418.4L352.7 1407L352.7 1403.2ZM360.3 1391.8L365.5 1391.8L376.9 1403.2L376.9 1407L365.5 1418.4L360.3 1418.4L348.9 1407L348.9 1403.2ZM360.3 1391.8L365.5 1391.8L376.9 1403.2L376.9 1407L365.5 1418.4L360.3 1418.4L348.9 1407L348.9 1403.2ZM356.4 1391.8L361.6 1391.8L373 1403.2L373 1407L361.6 1418.4L356.4 1418.4L345 1407L345 1403.2ZM352.6 1395.6L357.8 1395.6L369.2 1407L369.2 1410.8L357.8 1422.2L352.6 1422.2L341.2 1410.8L341.2 1407ZM352.6 1395.6L357.8 1395.6L369.2 1407L369.2 1410.8L357.8 1422.2L352.6 1422.2L341.2 1410.8L341.2 1407ZM348.8 1395.6L354 1395.6L365.4 1407L365.4 1410.8L354 1422.2L348.8 1422.2L337.4 1410.8L337.4 1407ZM345 1395.6L350.2 1395.6L361.6 1407L361.6 1410.8L350.2 1422.2L345 1422.2L333.6 1410.8L333.6 1407ZM345 1395.6L350.2 1395.6L361.6 1407L361.6 1410.8L350.2 1422.2L345 1422.2L333.6 1410.8L333.6 1407ZM341.1 1395.6L346.3 1395.6L357.7 1407L357.7 1410.8L346.3 1422.2L341.1 1422.2L329.7 1410.8L329.7 1407ZM337.3 1395.6L342.5 1395.6L353.9 1407L353.9 1410.8L342.5 1422.2L337.3 1422.2L325.9 1410.8L325.9 1407ZM337.3 1395.6L342.5 1395.6L353.9 1407L353.9 1410.8L342.5 1422.2L337.3 1422.2L325.9 1410.8L325.9 1407ZM333.5 1399.5L338.7 1399.5L350.1 1410.9L350.1 1414.7L338.7 1426.1L333.5 1426.1L322.1 1414.7L322.1 1410.9ZM329.7 1399.5L334.9 1399.5L346.3 1410.9L346.3 1414.7L334.9 1426.1L329.7 1426.1L318.3 1414.7L318.3 1410.9ZM329.7 1399.5L334.9 1399.5L346.3 1410.9L346.3 1414.7L334.9 1426.1L329.7 1426.1L318.3 1414.7L318.3 1410.9ZM325.8 1399.5L331 1399.5L342.4 1410.9L342.4 1414.7L331 1426.1L325.8 1426.1L314.4 1414.7L314.4 1410.9ZM322 1399.5L327.2 1399.5L338.6 1410.9L338.6 1414.7L327.2 1426.1L322 1426.1L310.6 1414.7L310.6 1410.9ZM322 1399.5L327.2 1399.5L338.6 1410.9L338.6 1414.7L327.2 1426.1L322 1426.1L310.6 1414.7L310.6 1410.9ZM318.2 1399.5L323.4 1399.5L334.8 1410.9L334.8 1414.7L323.4 1426.1L318.2 1426.1L306.8 1414.7L306.8 1410.9ZM314.4 1399.5L319.6 1399.5L331 1410.9L331 1414.7L319.6 1426.1L314.4 1426.1L303 1414.7L303 1410.9ZM314.4 1403.3L319.6 1403.3L331 1414.7L331 1418.5L319.6 1429.9L314.4 1429.9L303 1418.5L303 1414.7ZM310.5 1403.3L315.7 1403.3L327.1 1414.7L327.1 1418.5L315.7 1429.9L310.5 1429.9L299.1 1418.5L299.1 1414.7ZM306.7 1403.3L311.9 1403.3L323.3 1414.7L323.3 1418.5L311.9 1429.9L306.7 1429.9L295.3 1418.5L295.3 1414.7ZM306.7 1403.3L311.9 1403.3L323.3 1414.7L323.3 1418.5L311.9 1429.9L306.7 1429.9L295.3 1418.5L295.3 1414.7ZM302.9 1403.3L308.1 1403.3L319.5 1414.7L319.5 1418.5L308.1 1429.9L302.9 1429.9L291.5 1418.5L291.5 1414.7ZM302.9 1403.3L308.1 1403.3L319.5 1414.7L319.5 1418.5L308.1 1429.9L302.9 1429.9L291.5 1418.5L291.5 1414.7ZM299 1403.3L304.2 1403.3L315.6 1414.7L315.6 1418.5L304.2 1429.9L299 1429.9L287.6 1418.5L287.6 1414.7ZM295.2 1407.1L300.4 1407.1L311.8 1418.5L311.8 1422.3L300.4 1433.7L295.2 1433.7L283.8 1422.3L283.8 1418.5ZM295.2 1407.1L300.4 1407.1L311.8 1418.5L311.8 1422.3L300.4 1433.7L295.2 1433.7L283.8 1422.3L283.8 1418.5ZM291.4 1407.1L296.6 1407.1L308 1418.5L308 1422.3L296.6 1433.7L291.4 1433.7L280 1422.3L280 1418.5ZM287.6 1407.1L292.8 1407.1L304.2 1418.5L304.2 1422.3L292.8 1433.7L287.6 1433.7L276.2 1422.3L276.2 1418.5ZM287.6 1407.1L292.8 1407.1L304.2 1418.5L304.2 1422.3L292.8 1433.7L287.6 1433.7L276.2 1422.3L276.2 1418.5ZM283.7 1407.1L288.9 1407.1L300.3 1418.5L300.3 1422.3L288.9 1433.7L283.7 1433.7L272.3 1422.3L272.3 1418.5ZM283.7 1407.1L288.9 1407.1L300.3 1418.5L300.3 1422.3L288.9 1433.7L283.7 1433.7L272.3 1422.3L272.3 1418.5ZM279.9 1407.1L285.1 1407.1L296.5 1418.5L296.5 1422.3L285.1 1433.7L279.9 1433.7L268.5 1422.3L268.5 1418.5ZM276.1 1411L281.3 1411L292.7 1422.4L292.7 1426.2L281.3 1437.6L276.1 1437.6L264.7 1426.2L264.7 1422.4ZM276.1 1411L281.3 1411L292.7 1422.4L292.7 1426.2L281.3 1437.6L276.1 1437.6L264.7 1426.2L264.7 1422.4ZM272.3 1411L277.5 1411L288.9 1422.4L288.9 1426.2L277.5 1437.6L272.3 1437.6L260.9 1426.2L260.9 1422.4ZM272.3 1411L277.5 1411L288.9 1422.4L288.9 1426.2L277.5 1437.6L272.3 1437.6L260.9 1426.2L260.9 1422.4ZM268.4 1411L273.6 1411L285 1422.4L285 1426.2L273.6 1437.6L268.4 1437.6L257 1426.2L257 1422.4ZM264.6 1411L269.8 1411L281.2 1422.4L281.2 1426.2L269.8 1437.6L264.6 1437.6L253.2 1426.2L253.2 1422.4ZM264.6 1411L269.8 1411L281.2 1422.4L281.2 1426.2L269.8 1437.6L264.6 1437.6L253.2 1426.2L253.2 1422.4ZM260.8 1411L266 1411L277.4 1422.4L277.4 1426.2L266 1437.6L260.8 1437.6L249.4 1426.2L249.4 1422.4ZM260.8 1411L266 1411L277.4 1422.4L277.4 1426.2L266 1437.6L260.8 1437.6L249.4 1426.2L249.4 1422.4ZM256.9 1414.8L262.1 1414.8L273.5 1426.2L273.5 1430L262.1 1441.4L256.9 1441.4L245.5 1430L245.5 1426.2ZM253.1 1414.8L258.3 1414.8L269.7 1426.2L269.7 1430L258.3 1441.4L253.1 1441.4L241.7 1430L241.7 1426.2Z" fill="#000080"/><path d="M2229.5 620.3h21v21h-21ZM2214.5 654.3h21v21h-21ZM2199.5 689h21v21h-21ZM2179.8 723.4h21v21h-21ZM2164.5 754.1h21v21h-21ZM2149.4 776.7h21v21h-21ZM2133.5 795.8h21v21h-21ZM2118.6 811.2h21v21h-21ZM2103.6 826.4h21v21h-21ZM2088.5 837.9h21v21h-21ZM2072.6 846.2h21v21h-21ZM2057.4 857.2h21v21h-21ZM2045.7 868.5h21v21h-21ZM2030.3 876.1h21v21h-21ZM2015.5 883.9h21v21h-21ZM1999.7 891h21v21h-21ZM1988.2 899.3h21v21h-21ZM1972.7 906.2h21v21h-21ZM1957.8 910.7h21v21h-21ZM1946.4 918.4h21v21h-21ZM1931.1 926h21v21h-21ZM1919.6 929.9h21v21h-21ZM1904.3 933.7h21v21h-21ZM1892.8 941.4h21v21h-21ZM1877.5 945.2h21v21h-21ZM1866 949h21v21h-21ZM1850.7 952.8h21v21h-21ZM1839.2 956.7h21v21h-21ZM1827.7 960.5h21v21h-21ZM1816.2 964.3h21v21h-21ZM1800.9 968.1h21v21h-21ZM1789.5 972h21v21h-21ZM1778 975.8h21v21h-21ZM1766.5 979.6h21v21h-21ZM1755 983.4h21v21h-21ZM1743.5 987.3h21v21h-21ZM1732 991.1h21v21h-21ZM1716.7 994.9h21v21h-21ZM1705.3 998.8h21v21h-21ZM1693.8 1002.6h21v21h-21ZM1686.1 1002.6h21v21h-21ZM1674.6 1006.4h21v21h-21ZM1663.2 1010.2h21v21h-21ZM1651.7 1010.2h21v21h-21ZM1640.2 1014.1h21v21h-21ZM1628.7 1017.9h21v21h-21ZM1617.2 1017.9h21v21h-21ZM1609.6 1021.7h21v21h-21ZM1598.1 1025.5h21v21h-21ZM1586.6 1025.5h21v21h-21ZM1575.1 1029.4h21v21h-21ZM1567.5 1033.2h21v21h-21ZM1556 1037h21v21h-21ZM1544.5 1037h21v21h-21ZM1536.9 1040.9h21v21h-21ZM1525.4 1040.9h21v21h-21ZM1513.9 1044.7h21v21h-21ZM1506.3 1044.7h21v21h-21ZM1494.8 1048.5h21v21h-21ZM1487.1 1048.5h21v21h-21ZM1475.6 1052.3h21v21h-21ZM1468 1052.3h21v21h-21ZM1456.5 1056.2h21v21h-21ZM1448.8 1056.2h21v21h-21ZM1441.2 1060h21v21h-21ZM1429.7 1060h21v21h-21ZM1422.1 1063.8h21v21h-21ZM1410.6 1063.8h21v21h-21ZM1402.9 1067.6h21v21h-21ZM1395.3 1067.6h21v21h-21ZM1383.8 1067.6h21v21h-21ZM1376.1 1071.5h21v21h-21ZM1368.5 1071.5h21v21h-21ZM1360.8 1075.3h21v21h-21ZM1349.3 1075.3h21v21h-21ZM1341.7 1075.3h21v21h-21ZM1334 1079.1h21v21h-21ZM1326.4 1079.1h21v21h-21ZM1314.9 1079.1h21v21h-21ZM1307.3 1083h21v21h-21ZM1299.6 1083h21v21h-21ZM1291.9 1083h21v21h-21ZM1284.3 1086.8h21v21h-21ZM1276.6 1086.8h21v21h-21ZM1269 1086.8h21v21h-21ZM1261.3 1090.6h21v21h-21ZM1253.7 1090.6h21v21h-21ZM1246 1090.6h21v21h-21ZM1238.4 1094.4h21v21h-21ZM1230.7 1094.4h21v21h-21ZM1223.1 1094.4h21v21h-21ZM1215.4 1098.3h21v21h-21ZM1207.7 1098.3h21v21h-21ZM1200.1 1098.3h21v21h-21ZM1192.4 1102.1h21v21h-21ZM1184.8 1102.1h21v21h-21ZM1177.1 1105.9h21v21h-21ZM1169.5 1105.9h21v21h-21ZM1161.8 1105.9h21v21h-21ZM1154.2 1109.7h21v21h-21ZM1146.5 1109.7h21v21h-21ZM1142.7 1113.6h21v21h-21ZM1135 1113.6h21v21h-21ZM1127.4 1117.4h21v21h-21ZM1119.7 1117.4h21v21h-21ZM1112.1 1117.4h21v21h-21ZM1104.4 1121.2h21v21h-21ZM1100.6 1121.2h21v21h-21ZM1092.9 1125h21v21h-21ZM1085.3 1125h21v21h-21ZM1077.6 1128.9h21v21h-21ZM1073.8 1128.9h21v21h-21ZM1066.1 1132.7h21v21h-21ZM1058.5 1132.7h21v21h-21ZM1054.7 1136.5h21v21h-21ZM1047 1136.5h21v21h-21ZM1039.4 1136.5h21v21h-21ZM1035.5 1140.4h21v21h-21ZM1027.9 1140.4h21v21h-21ZM1020.2 1144.2h21v21h-21ZM1016.4 1144.2h21v21h-21ZM1008.7 1148h21v21h-21ZM1001.1 1148h21v21h-21ZM997.3 1148h21v21h-21ZM989.6 1151.8h21v21h-21ZM985.8 1151.8h21v21h-21ZM978.1 1151.8h21v21h-21ZM974.3 1155.7h21v21h-21ZM966.6 1155.7h21v21h-21ZM959 1159.5h21v21h-21ZM955.2 1159.5h21v21h-21ZM947.5 1159.5h21v21h-21ZM943.7 1163.3h21v21h-21ZM936 1163.3h21v21h-21ZM932.2 1163.3h21v21h-21ZM924.6 1167.1h21v21h-21ZM920.7 1167.1h21v21h-21ZM916.9 1167.1h21v21h-21ZM909.2 1171h21v21h-21ZM905.4 1171h21v21h-21ZM897.8 1171h21v21h-21ZM893.9 1174.8h21v21h-21ZM886.3 1174.8h21v21h-21ZM882.5 1174.8h21v21h-21ZM878.6 1174.8h21v21h-21ZM871 1178.6h21v21h-21ZM867.1 1178.6h21v21h-21ZM859.5 1178.6h21v21h-21ZM855.7 1182.5h21v21h-21ZM851.8 1182.5h21v21h-21ZM844.2 1182.5h21v21h-21ZM840.4 1186.3h21v21h-21ZM836.5 1186.3h21v21h-21ZM828.9 1186.3h21v21h-21ZM825 1186.3h21v21h-21ZM821.2 1190.1h21v21h-21ZM813.6 1190.1h21v21h-21ZM809.7 1190.1h21v21h-21ZM805.9 1190.1h21v21h-21ZM802.1 1193.9h21v21h-21ZM794.4 1193.9h21v21h-21ZM790.6 1193.9h21v21h-21ZM786.8 1197.8h21v21h-21ZM779.1 1197.8h21v21h-21ZM775.3 1197.8h21v21h-21ZM771.5 1197.8h21v21h-21ZM767.6 1201.6h21v21h-21ZM763.8 1201.6h21v21h-21ZM756.2 1201.6h21v21h-21ZM752.3 1201.6h21v21h-21ZM748.5 1205.4h21v21h-21ZM744.7 1205.4h21v21h-21ZM737 1205.4h21v21h-21ZM733.2 1209.2h21v21h-21ZM729.4 1209.2h21v21h-21ZM725.5 1209.2h21v21h-21ZM721.7 1209.2h21v21h-21ZM717.9 1213.1h21v21h-21ZM710.2 1213.1h21v21h-21ZM706.4 1213.1h21v21h-21ZM702.6 1216.9h21v21h-21ZM698.8 1216.9h21v21h-21ZM694.9 1216.9h21v21h-21ZM691.1 1216.9h21v21h-21ZM687.3 1220.7h21v21h-21ZM683.4 1220.7h21v21h-21ZM675.8 1220.7h21v21h-21ZM672 1224.5h21v21h-21ZM668.1 1224.5h21v21h-21ZM664.3 1224.5h21v21h-21ZM660.5 1224.5h21v21h-21ZM656.7 1228.4h21v21h-21ZM652.8 1228.4h21v21h-21ZM649 1228.4h21v21h-21ZM645.2 1232.2h21v21h-21ZM641.4 1232.2h21v21h-21ZM637.5 1232.2h21v21h-21ZM633.7 1232.2h21v21h-21ZM629.9 1236h21v21h-21ZM626 1236h21v21h-21ZM622.2 1236h21v21h-21ZM618.4 1236h21v21h-21ZM614.6 1239.9h21v21h-21ZM610.7 1239.9h21v21h-21ZM606.9 1239.9h21v21h-21ZM603.1 1239.9h21v21h-21ZM599.3 1243.7h21v21h-21ZM595.4 1243.7h21v21h-21ZM591.6 1243.7h21v21h-21ZM587.8 1243.7h21v21h-21ZM583.9 1243.7h21v21h-21ZM580.1 1247.5h21v21h-21ZM576.3 1247.5h21v21h-21ZM572.5 1247.5h21v21h-21ZM568.6 1247.5h21v21h-21ZM564.8 1251.3h21v21h-21ZM561 1251.3h21v21h-21ZM557.2 1251.3h21v21h-21ZM553.3 1251.3h21v21h-21ZM549.5 1255.2h21v21h-21ZM545.7 1255.2h21v21h-21ZM541.9 1255.2h21v21h-21ZM538 1255.2h21v21h-21ZM534.2 1255.2h21v21h-21ZM530.4 1259h21v21h-21ZM526.5 1259h21v21h-21ZM526.5 1259h21v21h-21ZM522.7 1259h21v21h-21ZM518.9 1262.8h21v21h-21ZM515.1 1262.8h21v21h-21ZM511.2 1262.8h21v21h-21ZM507.4 1262.8h21v21h-21ZM503.6 1262.8h21v21h-21ZM499.8 1266.6h21v21h-21ZM499.8 1266.6h21v21h-21ZM495.9 1266.6h21v21h-21ZM492.1 1266.6h21v21h-21ZM488.3 1270.5h21v21h-21ZM484.4 1270.5h21v21h-21ZM480.6 1270.5h21v21h-21ZM476.8 1270.5h21v21h-21ZM476.8 1270.5h21v21h-21ZM473 1274.3h21v21h-21ZM469.1 1274.3h21v21h-21ZM465.3 1274.3h21v21h-21ZM461.5 1274.3h21v21h-21ZM457.7 1278.1h21v21h-21ZM457.7 1278.1h21v21h-21ZM453.8 1278.1h21v21h-21ZM450 1278.1h21v21h-21ZM446.2 1278.1h21v21h-21ZM442.3 1282h21v21h-21ZM442.3 1282h21v21h-21ZM438.5 1282h21v21h-21ZM434.7 1282h21v21h-21ZM430.9 1282h21v21h-21ZM427 1285.8h21v21h-21ZM427 1285.8h21v21h-21ZM423.2 1285.8h21v21h-21ZM419.4 1285.8h21v21h-21ZM415.6 1285.8h21v21h-21ZM415.6 1289.6h21v21h-21ZM411.7 1289.6h21v21h-21ZM407.9 1289.6h21v21h-21ZM404.1 1289.6h21v21h-21ZM400.3 1289.6h21v21h-21ZM400.3 1293.4h21v21h-21ZM396.4 1293.4h21v21h-21ZM392.6 1293.4h21v21h-21ZM392.6 1293.4h21v21h-21ZM388.8 1293.4h21v21h-21ZM384.9 1293.4h21v21h-21ZM381.1 1297.3h21v21h-21ZM381.1 1297.3h21v21h-21ZM377.3 1297.3h21v21h-21ZM373.5 1297.3h21v21h-21ZM369.6 1297.3h21v21h-21ZM369.6 1301.1h21v21h-21ZM365.8 1301.1h21v21h-21ZM362 1301.1h21v21h-21ZM362 1301.1h21v21h-21ZM358.2 1301.1h21v21h-21ZM354.3 1301.1h21v21h-21ZM350.5 1304.9h21v21h-21ZM350.5 1304.9h21v21h-21ZM346.7 1304.9h21v21h-21ZM342.8 1304.9h21v21h-21ZM342.8 1304.9h21v21h-21ZM339 1304.9h21v21h-21ZM335.2 1308.7h21v21h-21ZM335.2 1308.7h21v21h-21ZM331.4 1308.7h21v21h-21ZM327.5 1308.7h21v21h-21ZM327.5 1308.7h21v21h-21ZM323.7 1308.7h21v21h-21ZM319.9 1312.6h21v21h-21ZM319.9 1312.6h21v21h-21ZM316.1 1312.6h21v21h-21ZM312.2 1312.6h21v21h-21ZM312.2 1312.6h21v21h-21ZM308.4 1312.6h21v21h-21ZM304.6 1316.4h21v21h-21ZM304.6 1316.4h21v21h-21ZM300.7 1316.4h21v21h-21ZM296.9 1316.4h21v21h-21ZM296.9 1316.4h21v21h-21ZM293.1 1316.4h21v21h-21ZM293.1 1320.2h21v21h-21ZM289.3 1320.2h21v21h-21ZM285.4 1320.2h21v21h-21ZM285.4 1320.2h21v21h-21ZM281.6 1320.2h21v21h-21ZM277.8 1320.2h21v21h-21ZM277.8 1320.2h21v21h-21ZM274 1324.1h21v21h-21ZM274 1324.1h21v21h-21ZM270.1 1324.1h21v21h-21ZM266.3 1324.1h21v21h-21ZM266.3 1324.1h21v21h-21ZM262.5 1324.1h21v21h-21ZM262.5 1327.9h21v21h-21ZM258.7 1327.9h21v21h-21ZM254.8 1327.9h21v21h-21ZM254.8 1327.9h21v21h-21ZM251 1327.9h21v21h-21ZM251 1327.9h21v21h-21ZM247.2 1327.9h21v21h-21ZM243.3 1331.7h21v21h-21Z" fill="#FF00FF" stroke="#FF00FF" stroke-width="3" stroke-linejoin="round"/><g fill="#008000" stroke="#003300" stroke-width="5.1" stroke-linejoin="round"><path d="M2226.7 472.2L2237.1 495.1L2216.3 495.1Z"/><path d="M2211.5 525.4L2221.9 548.4L2201.1 548.4Z"/><path d="M2192.1 564L2202.5 587L2181.7 587Z"/><path d="M2176.9 590.5L2187.3 613.5L2166.5 613.5Z"/><path d="M2161.3 609.4L2171.7 632.4L2150.9 632.4Z"/><path d="M2146.1 632.3L2156.5 655.2L2135.7 655.2Z"/><path d="M2130.8 644.5L2141.2 667.5L2120.4 667.5Z"/><path d="M2115.5 659.5L2125.9 682.5L2105.1 682.5Z"/><path d="M2100.4 671.2L2110.8 694.2L2090 694.2Z"/><path d="M2084.9 682.4L2095.3 705.4L2074.5 705.4Z"/><path d="M2069.6 697.3L2080 720.2L2059.2 720.2Z"/><path d="M2058.4 705.6L2068.8 728.6L2048 728.6Z"/><path d="M2042.9 717.2L2053.3 740.2L2032.5 740.2Z"/><path d="M2027.4 725L2037.8 748L2017 748Z"/><path d="M2011.8 737L2022.2 760L2001.4 760Z"/><path d="M2000.3 743.4L2010.7 766.4L1989.9 766.4Z"/><path d="M1985.8 751.2L1996.2 774.2L1975.4 774.2Z"/><path d="M1969.8 755.2L1980.2 778.2L1959.4 778.2Z"/><path d="M1958.5 762.1L1968.9 785.1L1948.1 785.1Z"/><path d="M1943.7 770.1L1954.1 793.1L1933.3 793.1Z"/><path d="M1932 774.1L1942.4 797.1L1921.6 797.1Z"/><path d="M1916.8 782.1L1927.2 805.1L1906.4 805.1Z"/><path d="M1905.2 785.4L1915.6 808.4L1894.8 808.4Z"/><path d="M1889.5 789.4L1899.9 812.4L1879.1 812.4Z"/><path d="M1877.9 797.4L1888.3 820.4L1867.5 820.4Z"/><path d="M1866.7 801.4L1877.1 824.4L1856.3 824.4Z"/><path d="M1851.4 804.3L1861.8 827.2L1841 827.2Z"/><path d="M1840.2 808.2L1850.6 831.2L1829.8 831.2Z"/><path d="M1828.5 812.4L1839 835.3L1818.1 835.3Z"/><path d="M1813.2 816.3L1823.7 839.2L1802.8 839.2Z"/><path d="M1801.8 820.1L1812.2 843L1791.3 843Z"/><path d="M1790.3 823.9L1800.7 846.8L1779.8 846.8Z"/><path d="M1778.8 827.7L1789.2 850.6L1768.3 850.6Z"/><path d="M1767.3 831.6L1777.7 854.5L1756.9 854.5Z"/><path d="M1755.8 835.4L1766.3 858.3L1745.4 858.3Z"/><path d="M1744.3 839.2L1754.8 862.1L1733.9 862.1Z"/><path d="M1729 843L1739.5 865.9L1718.6 865.9Z"/><path d="M1717.6 846.9L1728 869.8L1707.1 869.8Z"/><path d="M1706.1 850.7L1716.5 873.6L1695.6 873.6Z"/><path d="M1698.4 854.5L1708.9 877.4L1688 877.4Z"/><path d="M1686.9 858.4L1697.4 881.3L1676.5 881.3Z"/><path d="M1675.5 862.2L1685.9 885.1L1665 885.1Z"/><path d="M1664 866L1674.4 888.9L1653.5 888.9Z"/><path d="M1652.5 869.8L1662.9 892.7L1642.1 892.7Z"/><path d="M1641 873.7L1651.5 896.6L1630.6 896.6Z"/><path d="M1629.5 877.5L1640 900.4L1619.1 900.4Z"/><path d="M1621.9 881.3L1632.3 904.2L1611.4 904.2Z"/><path d="M1610.4 881.3L1620.8 904.2L1600 904.2Z"/><path d="M1598.9 885.1L1609.4 908L1588.5 908Z"/><path d="M1587.4 889L1597.9 911.9L1577 911.9Z"/><path d="M1579.8 889L1590.2 911.9L1569.3 911.9Z"/><path d="M1568.3 892.8L1578.7 915.7L1557.9 915.7Z"/><path d="M1556.8 896.6L1567.3 919.5L1546.4 919.5Z"/><path d="M1549.2 896.6L1559.6 919.5L1538.7 919.5Z"/><path d="M1537.7 900.4L1548.1 923.3L1527.2 923.3Z"/><path d="M1526.2 904.3L1536.6 927.2L1515.8 927.2Z"/><path d="M1518.6 904.3L1529 927.2L1508.1 927.2Z"/><path d="M1507.1 908.1L1517.5 931L1496.6 931Z"/><path d="M1499.4 908.1L1509.9 931L1489 931Z"/><path d="M1487.9 911.9L1498.4 934.8L1477.5 934.8Z"/><path d="M1480.3 911.9L1490.7 934.8L1469.8 934.8Z"/><path d="M1468.8 915.8L1479.2 938.7L1458.4 938.7Z"/><path d="M1461.1 915.8L1471.6 938.7L1450.7 938.7Z"/><path d="M1453.5 919.6L1463.9 942.5L1443.1 942.5Z"/><path d="M1442 919.6L1452.5 942.5L1431.6 942.5Z"/><path d="M1434.4 923.4L1444.8 946.3L1423.9 946.3Z"/><path d="M1422.9 923.4L1433.3 946.3L1412.4 946.3Z"/><path d="M1415.2 927.2L1425.7 950.1L1404.8 950.1Z"/><path d="M1407.6 927.2L1418 950.1L1397.1 950.1Z"/><path d="M1396.1 927.2L1406.5 950.1L1385.6 950.1Z"/><path d="M1388.4 931.1L1398.9 954L1378 954Z"/><path d="M1380.8 931.1L1391.2 954L1370.3 954Z"/><path d="M1373.1 934.9L1383.6 957.8L1362.7 957.8Z"/><path d="M1361.6 934.9L1372.1 957.8L1351.2 957.8Z"/><path d="M1354 938.7L1364.4 961.6L1343.6 961.6Z"/><path d="M1346.3 938.7L1356.8 961.6L1335.9 961.6Z"/><path d="M1338.7 942.5L1349.1 965.4L1328.2 965.4Z"/><path d="M1327.2 942.5L1337.6 965.4L1316.8 965.4Z"/><path d="M1319.5 946.4L1330 969.3L1309.1 969.3Z"/><path d="M1311.9 946.4L1322.3 969.3L1301.5 969.3Z"/><path d="M1304.2 946.4L1314.7 969.3L1293.8 969.3Z"/><path d="M1296.6 950.2L1307 973.1L1286.1 973.1Z"/><path d="M1288.9 950.2L1299.4 973.1L1278.5 973.1Z"/><path d="M1281.3 950.2L1291.7 973.1L1270.8 973.1Z"/><path d="M1273.6 954L1284.1 976.9L1263.2 976.9Z"/><path d="M1266 954L1276.4 976.9L1255.5 976.9Z"/><path d="M1258.3 957.9L1268.8 980.8L1247.9 980.8Z"/><path d="M1250.7 957.9L1261.1 980.8L1240.2 980.8Z"/><path d="M1243 957.9L1253.4 980.8L1232.6 980.8Z"/><path d="M1235.4 961.7L1245.8 984.6L1224.9 984.6Z"/><path d="M1227.7 961.7L1238.1 984.6L1217.3 984.6Z"/><path d="M1220 965.5L1230.5 988.4L1209.6 988.4Z"/><path d="M1212.4 965.5L1222.8 988.4L1202 988.4Z"/><path d="M1204.7 969.3L1215.2 992.2L1194.3 992.2Z"/><path d="M1197.1 969.3L1207.5 992.2L1186.6 992.2Z"/><path d="M1189.4 973.2L1199.9 996.1L1179 996.1Z"/><path d="M1181.8 973.2L1192.2 996.1L1171.3 996.1Z"/><path d="M1174.1 977L1184.6 999.9L1163.7 999.9Z"/><path d="M1166.5 980.8L1176.9 1003.7L1156 1003.7Z"/><path d="M1158.8 980.8L1169.3 1003.7L1148.4 1003.7Z"/><path d="M1155 984.6L1165.4 1007.5L1144.5 1007.5Z"/><path d="M1147.3 984.6L1157.8 1007.5L1136.9 1007.5Z"/><path d="M1139.7 988.5L1150.1 1011.4L1129.2 1011.4Z"/><path d="M1132 992.3L1142.5 1015.2L1121.6 1015.2Z"/><path d="M1124.4 992.3L1134.8 1015.2L1113.9 1015.2Z"/><path d="M1116.7 996.1L1127.2 1019L1106.3 1019Z"/><path d="M1112.9 999.9L1123.3 1022.8L1102.5 1022.8Z"/><path d="M1105.2 999.9L1115.7 1022.8L1094.8 1022.8Z"/><path d="M1097.6 1003.8L1108 1026.7L1087.1 1026.7Z"/><path d="M1089.9 1007.6L1100.4 1030.5L1079.5 1030.5Z"/><path d="M1086.1 1011.4L1096.5 1034.3L1075.7 1034.3Z"/><path d="M1078.4 1011.4L1088.9 1034.3L1068 1034.3Z"/><path d="M1070.8 1015.3L1081.2 1038.2L1060.4 1038.2Z"/><path d="M1067 1019.1L1077.4 1042L1056.5 1042Z"/><path d="M1059.3 1019.1L1069.8 1042L1048.9 1042Z"/><path d="M1051.7 1022.9L1062.1 1045.8L1041.2 1045.8Z"/><path d="M1047.8 1026.7L1058.3 1049.6L1037.4 1049.6Z"/><path d="M1040.2 1026.7L1050.6 1049.6L1029.7 1049.6Z"/><path d="M1032.5 1030.6L1043 1053.5L1022.1 1053.5Z"/><path d="M1028.7 1034.4L1039.1 1057.3L1018.3 1057.3Z"/><path d="M1021 1038.2L1031.5 1061.1L1010.6 1061.1Z"/><path d="M1013.4 1038.2L1023.8 1061.1L1002.9 1061.1Z"/><path d="M1009.6 1042L1020 1064.9L999.1 1064.9Z"/><path d="M1001.9 1045.9L1012.3 1068.8L991.5 1068.8Z"/><path d="M998.1 1045.9L1008.5 1068.8L987.6 1068.8Z"/><path d="M990.4 1049.7L1000.9 1072.6L980 1072.6Z"/><path d="M986.6 1049.7L997 1072.6L976.2 1072.6Z"/><path d="M978.9 1053.5L989.4 1076.4L968.5 1076.4Z"/><path d="M971.3 1053.5L981.7 1076.4L960.9 1076.4Z"/><path d="M967.5 1057.4L977.9 1080.3L957 1080.3Z"/><path d="M959.8 1057.4L970.3 1080.3L949.4 1080.3Z"/><path d="M956 1057.4L966.4 1080.3L945.5 1080.3Z"/><path d="M948.3 1057.4L958.8 1080.3L937.9 1080.3Z"/><path d="M944.5 1061.2L954.9 1084.1L934.1 1084.1Z"/><path d="M936.8 1061.2L947.3 1084.1L926.4 1084.1Z"/><path d="M933 1061.2L943.5 1084.1L922.6 1084.1Z"/><path d="M929.2 1061.2L939.6 1084.1L918.8 1084.1Z"/><path d="M921.5 1065L932 1087.9L911.1 1087.9Z"/><path d="M917.7 1065L928.2 1087.9L907.3 1087.9Z"/><path d="M910.1 1065L920.5 1087.9L899.6 1087.9Z"/><path d="M906.2 1065L916.7 1087.9L895.8 1087.9Z"/><path d="M898.6 1065L909 1087.9L888.1 1087.9Z"/><path d="M894.8 1068.8L905.2 1091.7L884.3 1091.7Z"/><path d="M890.9 1068.8L901.4 1091.7L880.5 1091.7Z"/><path d="M883.3 1068.8L893.7 1091.7L872.8 1091.7Z"/><path d="M879.4 1068.8L889.9 1091.7L869 1091.7Z"/><path d="M871.8 1068.8L882.2 1091.7L861.4 1091.7Z"/><path d="M868 1068.8L878.4 1091.7L857.5 1091.7Z"/><path d="M864.1 1072.7L874.6 1095.6L853.7 1095.6Z"/><path d="M856.5 1072.7L866.9 1095.6L846 1095.6Z"/><path d="M852.7 1072.7L863.1 1095.6L842.2 1095.6Z"/><path d="M848.8 1072.7L859.3 1095.6L838.4 1095.6Z"/><path d="M841.2 1072.7L851.6 1095.6L830.7 1095.6Z"/><path d="M837.3 1072.7L847.8 1095.6L826.9 1095.6Z"/><path d="M833.5 1072.7L844 1095.6L823.1 1095.6Z"/><path d="M825.9 1072.7L836.3 1095.6L815.4 1095.6Z"/><path d="M822 1072.7L832.5 1095.6L811.6 1095.6Z"/><path d="M818.2 1076.5L828.7 1099.4L807.8 1099.4Z"/><path d="M814.4 1076.5L824.8 1099.4L803.9 1099.4Z"/><path d="M806.7 1076.5L817.2 1099.4L796.3 1099.4Z"/><path d="M802.9 1076.5L813.3 1099.4L792.5 1099.4Z"/><path d="M799.1 1076.5L809.5 1099.4L788.6 1099.4Z"/><path d="M791.4 1076.5L801.9 1099.4L781 1099.4Z"/><path d="M787.6 1076.5L798 1099.4L777.2 1099.4Z"/><path d="M783.8 1076.5L794.2 1099.4L773.3 1099.4Z"/><path d="M779.9 1080.3L790.4 1103.2L769.5 1103.2Z"/><path d="M776.1 1080.3L786.6 1103.2L765.7 1103.2Z"/><path d="M768.5 1080.3L778.9 1103.2L758 1103.2Z"/><path d="M764.6 1080.3L775.1 1103.2L754.2 1103.2Z"/><path d="M760.8 1080.3L771.2 1103.2L750.4 1103.2Z"/><path d="M757 1080.3L767.4 1103.2L746.5 1103.2Z"/><path d="M749.3 1084.1L759.8 1107L738.9 1107Z"/><path d="M745.5 1084.1L755.9 1107L735.1 1107Z"/><path d="M741.7 1084.1L752.1 1107L731.2 1107Z"/><path d="M737.8 1084.1L748.3 1107L727.4 1107Z"/><path d="M734 1088L744.5 1110.9L723.6 1110.9Z"/><path d="M730.2 1088L740.6 1110.9L719.8 1110.9Z"/><path d="M722.5 1088L733 1110.9L712.1 1110.9Z"/><path d="M718.7 1088L729.2 1110.9L708.3 1110.9Z"/><path d="M714.9 1088L725.3 1110.9L704.4 1110.9Z"/><path d="M711.1 1091.8L721.5 1114.7L700.6 1114.7Z"/><path d="M707.2 1091.8L717.7 1114.7L696.8 1114.7Z"/><path d="M703.4 1091.8L713.8 1114.7L693 1114.7Z"/><path d="M699.6 1091.8L710 1114.7L689.1 1114.7Z"/><path d="M695.7 1095.6L706.2 1118.5L685.3 1118.5Z"/><path d="M688.1 1095.6L698.5 1118.5L677.7 1118.5Z"/><path d="M684.3 1095.6L694.7 1118.5L673.8 1118.5Z"/><path d="M680.4 1095.6L690.9 1118.5L670 1118.5Z"/><path d="M676.6 1099.5L687.1 1122.4L666.2 1122.4Z"/><path d="M672.8 1099.5L683.2 1122.4L662.3 1122.4Z"/><path d="M669 1099.5L679.4 1122.4L658.5 1122.4Z"/><path d="M665.1 1099.5L675.6 1122.4L654.7 1122.4Z"/><path d="M661.3 1099.5L671.7 1122.4L650.9 1122.4Z"/><path d="M657.5 1103.3L667.9 1126.2L647 1126.2Z"/><path d="M653.7 1103.3L664.1 1126.2L643.2 1126.2Z"/><path d="M649.8 1103.3L660.3 1126.2L639.4 1126.2Z"/><path d="M646 1103.3L656.4 1126.2L635.6 1126.2Z"/><path d="M642.2 1107.1L652.6 1130L631.7 1130Z"/><path d="M638.3 1107.1L648.8 1130L627.9 1130Z"/><path d="M634.5 1107.1L645 1130L624.1 1130Z"/><path d="M630.7 1107.1L641.1 1130L620.2 1130Z"/><path d="M626.9 1110.9L637.3 1133.8L616.4 1133.8Z"/><path d="M623 1110.9L633.5 1133.8L612.6 1133.8Z"/><path d="M619.2 1110.9L629.6 1133.8L608.8 1133.8Z"/><path d="M615.4 1110.9L625.8 1133.8L604.9 1133.8Z"/><path d="M611.6 1114.8L622 1137.7L601.1 1137.7Z"/><path d="M607.7 1114.8L618.2 1137.7L597.3 1137.7Z"/><path d="M603.9 1114.8L614.3 1137.7L593.5 1137.7Z"/><path d="M600.1 1114.8L610.5 1137.7L589.6 1137.7Z"/><path d="M596.2 1114.8L606.7 1137.7L585.8 1137.7Z"/><path d="M592.4 1118.6L602.9 1141.5L582 1141.5Z"/><path d="M588.6 1118.6L599 1141.5L578.2 1141.5Z"/><path d="M584.8 1118.6L595.2 1141.5L574.3 1141.5Z"/><path d="M580.9 1118.6L591.4 1141.5L570.5 1141.5Z"/><path d="M577.1 1118.6L587.6 1141.5L566.7 1141.5Z"/><path d="M573.3 1122.4L583.7 1145.3L562.8 1145.3Z"/><path d="M569.5 1122.4L579.9 1145.3L559 1145.3Z"/><path d="M565.6 1122.4L576.1 1145.3L555.2 1145.3Z"/><path d="M561.8 1122.4L572.2 1145.3L551.4 1145.3Z"/><path d="M558 1122.4L568.4 1145.3L547.5 1145.3Z"/><path d="M554.1 1126.2L564.6 1149.1L543.7 1149.1Z"/><path d="M550.3 1126.2L560.8 1149.1L539.9 1149.1Z"/><path d="M546.5 1126.2L556.9 1149.1L536.1 1149.1Z"/><path d="M542.7 1126.2L553.1 1149.1L532.2 1149.1Z"/><path d="M538.8 1126.2L549.3 1149.1L528.4 1149.1Z"/><path d="M538.8 1126.2L549.3 1149.1L528.4 1149.1Z"/><path d="M535 1130.1L545.5 1153L524.6 1153Z"/><path d="M531.2 1130.1L541.6 1153L520.7 1153Z"/><path d="M527.4 1130.1L537.8 1153L516.9 1153Z"/><path d="M523.5 1130.1L534 1153L513.1 1153Z"/><path d="M519.7 1130.1L530.1 1153L509.3 1153Z"/><path d="M515.9 1130.1L526.3 1153L505.4 1153Z"/><path d="M512.1 1130.1L522.5 1153L501.6 1153Z"/><path d="M512.1 1133.9L522.5 1156.8L501.6 1156.8Z"/><path d="M508.2 1133.9L518.7 1156.8L497.8 1156.8Z"/><path d="M504.4 1133.9L514.8 1156.8L494 1156.8Z"/><path d="M500.6 1133.9L511 1156.8L490.1 1156.8Z"/><path d="M496.7 1133.9L507.2 1156.8L486.3 1156.8Z"/><path d="M492.9 1133.9L503.4 1156.8L482.5 1156.8Z"/><path d="M489.1 1137.7L499.5 1160.6L478.7 1160.6Z"/><path d="M489.1 1137.7L499.5 1160.6L478.7 1160.6Z"/><path d="M485.3 1137.7L495.7 1160.6L474.8 1160.6Z"/><path d="M481.4 1137.7L491.9 1160.6L471 1160.6Z"/><path d="M477.6 1137.7L488 1160.6L467.2 1160.6Z"/><path d="M473.8 1141.5L484.2 1164.4L463.3 1164.4Z"/><path d="M470 1141.5L480.4 1164.4L459.5 1164.4Z"/><path d="M470 1141.5L480.4 1164.4L459.5 1164.4Z"/><path d="M466.1 1141.5L476.6 1164.4L455.7 1164.4Z"/><path d="M462.3 1141.5L472.7 1164.4L451.9 1164.4Z"/><path d="M458.5 1141.5L468.9 1164.4L448 1164.4Z"/><path d="M454.6 1145.4L465.1 1168.3L444.2 1168.3Z"/><path d="M454.6 1145.4L465.1 1168.3L444.2 1168.3Z"/><path d="M450.8 1145.4L461.3 1168.3L440.4 1168.3Z"/><path d="M447 1145.4L457.4 1168.3L436.6 1168.3Z"/><path d="M443.2 1145.4L453.6 1168.3L432.7 1168.3Z"/><path d="M439.3 1149.2L449.8 1172.1L428.9 1172.1Z"/><path d="M439.3 1149.2L449.8 1172.1L428.9 1172.1Z"/><path d="M435.5 1149.2L446 1172.1L425.1 1172.1Z"/><path d="M431.7 1149.2L442.1 1172.1L421.2 1172.1Z"/><path d="M427.9 1149.2L438.3 1172.1L417.4 1172.1Z"/><path d="M427.9 1153L438.3 1175.9L417.4 1175.9Z"/><path d="M424 1153L434.5 1175.9L413.6 1175.9Z"/><path d="M420.2 1153L430.6 1175.9L409.8 1175.9Z"/><path d="M416.4 1153L426.8 1175.9L405.9 1175.9Z"/><path d="M412.6 1156.9L423 1179.8L402.1 1179.8Z"/><path d="M412.6 1156.9L423 1179.8L402.1 1179.8Z"/><path d="M408.7 1156.9L419.2 1179.8L398.3 1179.8Z"/><path d="M404.9 1156.9L415.3 1179.8L394.5 1179.8Z"/><path d="M404.9 1156.9L415.3 1179.8L394.5 1179.8Z"/><path d="M401.1 1160.7L411.5 1183.6L390.6 1183.6Z"/><path d="M397.2 1160.7L407.7 1183.6L386.8 1183.6Z"/><path d="M393.4 1160.7L403.9 1183.6L383 1183.6Z"/><path d="M393.4 1160.7L403.9 1183.6L383 1183.6Z"/><path d="M389.6 1160.7L400 1183.6L379.1 1183.6Z"/><path d="M385.8 1164.5L396.2 1187.4L375.3 1187.4Z"/><path d="M381.9 1164.5L392.4 1187.4L371.5 1187.4Z"/><path d="M381.9 1164.5L392.4 1187.4L371.5 1187.4Z"/><path d="M378.1 1164.5L388.5 1187.4L367.7 1187.4Z"/><path d="M374.3 1164.5L384.7 1187.4L363.8 1187.4Z"/><path d="M374.3 1168.3L384.7 1191.2L363.8 1191.2Z"/><path d="M370.5 1168.3L380.9 1191.2L360 1191.2Z"/><path d="M366.6 1168.3L377.1 1191.2L356.2 1191.2Z"/><path d="M362.8 1168.3L373.2 1191.2L352.4 1191.2Z"/><path d="M362.8 1168.3L373.2 1191.2L352.4 1191.2Z"/><path d="M359 1168.3L369.4 1191.2L348.5 1191.2Z"/><path d="M355.1 1172.2L365.6 1195.1L344.7 1195.1Z"/><path d="M355.1 1172.2L365.6 1195.1L344.7 1195.1Z"/><path d="M351.3 1172.2L361.8 1195.1L340.9 1195.1Z"/><path d="M347.5 1172.2L357.9 1195.1L337.1 1195.1Z"/><path d="M347.5 1172.2L357.9 1195.1L337.1 1195.1Z"/><path d="M343.7 1176L354.1 1198.9L333.2 1198.9Z"/><path d="M339.8 1176L350.3 1198.9L329.4 1198.9Z"/><path d="M339.8 1176L350.3 1198.9L329.4 1198.9Z"/><path d="M336 1176L346.5 1198.9L325.6 1198.9Z"/><path d="M332.2 1176L342.6 1198.9L321.7 1198.9Z"/><path d="M332.2 1176L342.6 1198.9L321.7 1198.9Z"/><path d="M328.4 1179.8L338.8 1202.7L317.9 1202.7Z"/><path d="M324.5 1179.8L335 1202.7L314.1 1202.7Z"/><path d="M324.5 1179.8L335 1202.7L314.1 1202.7Z"/><path d="M320.7 1179.8L331.1 1202.7L310.3 1202.7Z"/><path d="M316.9 1179.8L327.3 1202.7L306.4 1202.7Z"/><path d="M316.9 1183.6L327.3 1206.5L306.4 1206.5Z"/><path d="M313 1183.6L323.5 1206.5L302.6 1206.5Z"/><path d="M309.2 1183.6L319.7 1206.5L298.8 1206.5Z"/><path d="M309.2 1183.6L319.7 1206.5L298.8 1206.5Z"/><path d="M305.4 1183.6L315.8 1206.5L295 1206.5Z"/><path d="M305.4 1183.6L315.8 1206.5L295 1206.5Z"/><path d="M301.6 1187.5L312 1210.4L291.1 1210.4Z"/><path d="M297.7 1187.5L308.2 1210.4L287.3 1210.4Z"/><path d="M297.7 1187.5L308.2 1210.4L287.3 1210.4Z"/><path d="M293.9 1187.5L304.4 1210.4L283.5 1210.4Z"/><path d="M290.1 1187.5L300.5 1210.4L279.6 1210.4Z"/><path d="M290.1 1187.5L300.5 1210.4L279.6 1210.4Z"/><path d="M286.3 1191.3L296.7 1214.2L275.8 1214.2Z"/><path d="M286.3 1191.3L296.7 1214.2L275.8 1214.2Z"/><path d="M282.4 1191.3L292.9 1214.2L272 1214.2Z"/><path d="M278.6 1191.3L289 1214.2L268.2 1214.2Z"/><path d="M278.6 1191.3L289 1214.2L268.2 1214.2Z"/><path d="M274.8 1191.3L285.2 1214.2L264.3 1214.2Z"/><path d="M274.8 1195.1L285.2 1218L264.3 1218Z"/><path d="M271 1195.1L281.4 1218L260.5 1218Z"/><path d="M267.1 1195.1L277.6 1218L256.7 1218Z"/><path d="M267.1 1195.1L277.6 1218L256.7 1218Z"/><path d="M263.3 1195.1L273.7 1218L252.9 1218Z"/><path d="M263.3 1195.1L273.7 1218L252.9 1218Z"/><path d="M259.5 1199L269.9 1221.9L249 1221.9Z"/><path d="M255.6 1199L266.1 1221.9L245.2 1221.9Z"/></g><line x1="2244" y1="485" x2="1629.3" y2="1587.1" stroke="#000" stroke-width="6.4" stroke-linecap="round"/><path d="M1620.5 1602.8L1621.5 1578.8L1640.4 1589.3Z" fill="#000"/><line x1="2244" y1="626.5" x2="1777.2" y2="1586.3" stroke="#000" stroke-width="6.4" stroke-linecap="round"/><path d="M1769.3 1602.5L1769 1578.4L1788.4 1587.9Z" fill="#000"/><line x1="2244.4" y1="718.6" x2="1924.9" y2="1585.6" stroke="#000" stroke-width="6.4" stroke-linecap="round"/><path d="M1918.7 1602.5L1916 1578.6L1936.3 1586.1Z" fill="#000"/></svg></body></html>
